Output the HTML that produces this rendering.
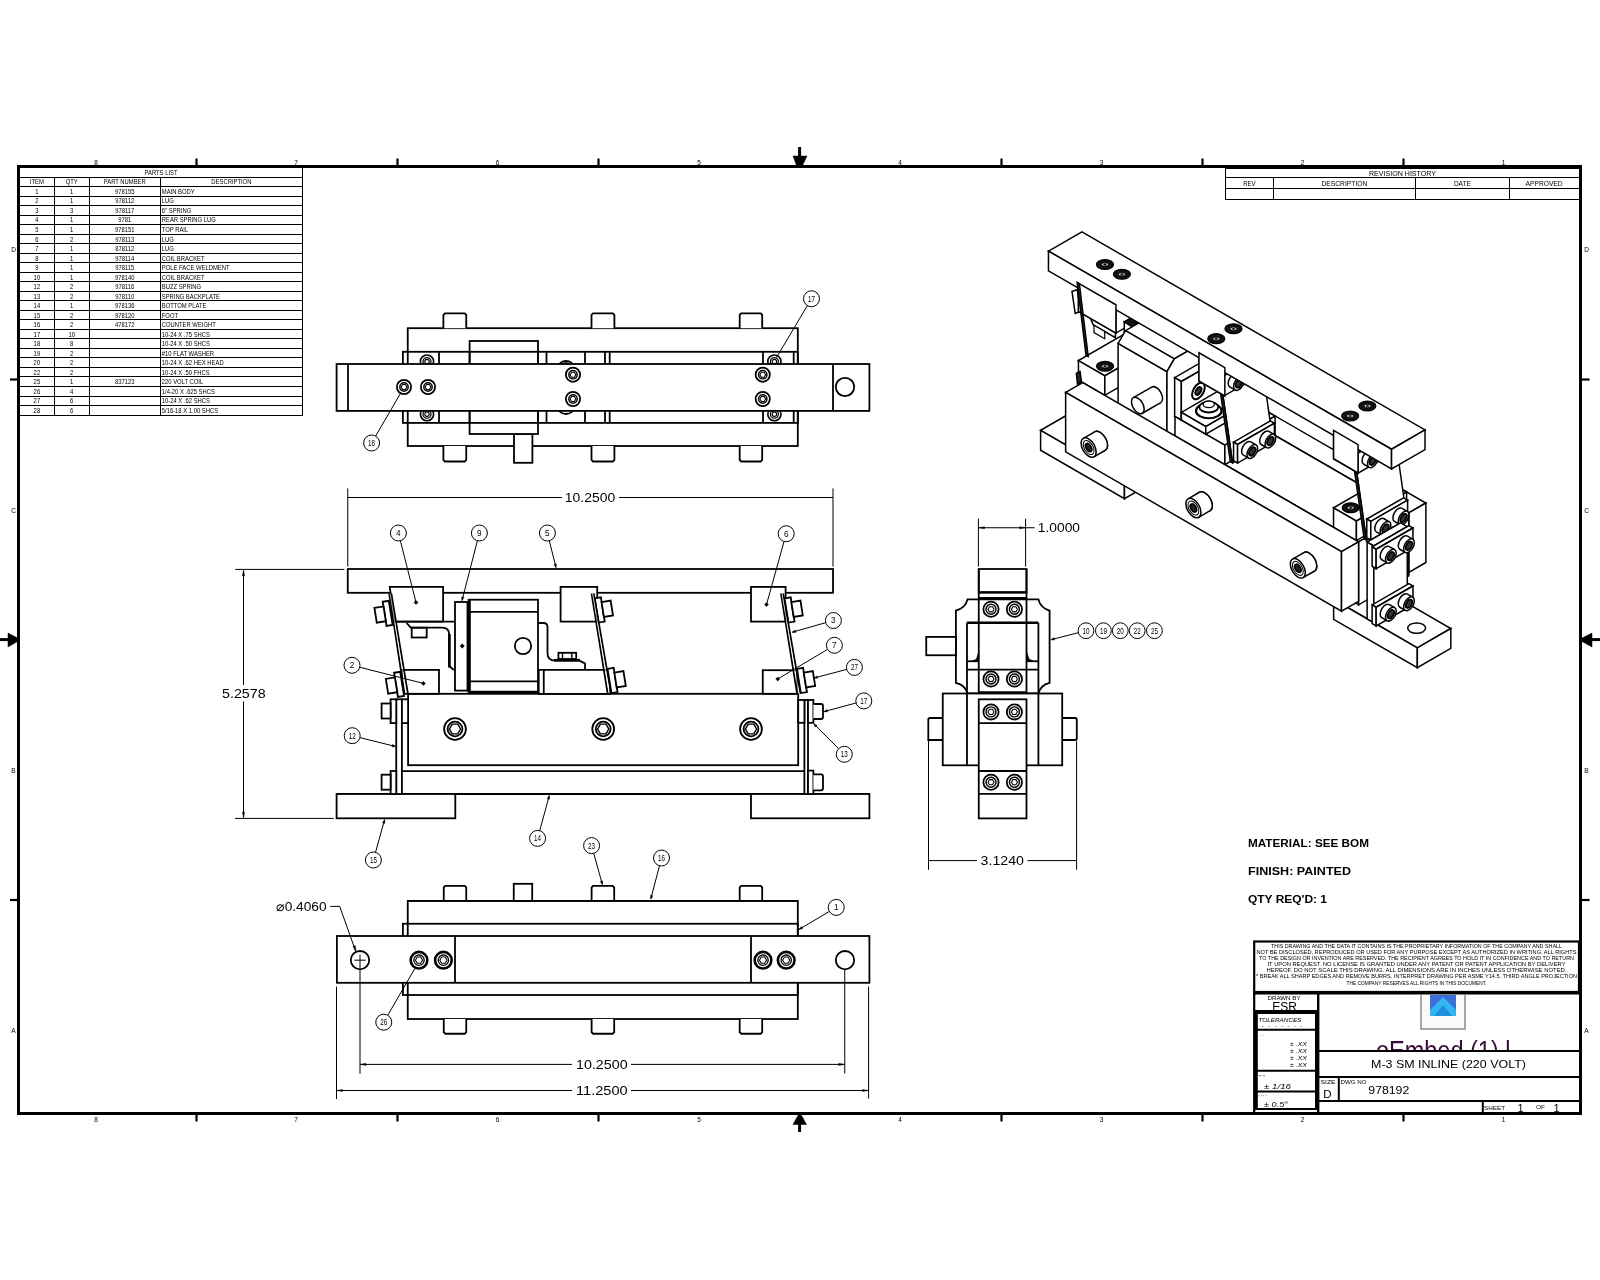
<!DOCTYPE html>
<html><head><meta charset="utf-8"><title>M-3 SM INLINE (220 VOLT)</title>
<style>
html,body{margin:0;padding:0;background:#fff;}
body{width:1600px;height:1280px;overflow:hidden;font-family:"Liberation Sans",sans-serif;}
svg{display:block;will-change:transform;font-family:"Liberation Sans",sans-serif;}
svg text{stroke:none;fill:#000;}
</style></head><body>
<svg width="1600" height="1280" viewBox="0 0 1600 1280" fill="none" stroke="#000" stroke-linecap="butt" stroke-linejoin="miter">
<rect x="18.50" y="166.50" width="1562.00" height="947.00" stroke-width="3" fill="none"/>
<line x1="196.50" y1="158.50" x2="196.50" y2="165.00" stroke-width="2.2" />
<line x1="196.50" y1="1115.00" x2="196.50" y2="1121.50" stroke-width="2.2" />
<line x1="397.50" y1="158.50" x2="397.50" y2="165.00" stroke-width="2.2" />
<line x1="397.50" y1="1115.00" x2="397.50" y2="1121.50" stroke-width="2.2" />
<line x1="598.50" y1="158.50" x2="598.50" y2="165.00" stroke-width="2.2" />
<line x1="598.50" y1="1115.00" x2="598.50" y2="1121.50" stroke-width="2.2" />
<line x1="1001.50" y1="158.50" x2="1001.50" y2="165.00" stroke-width="2.2" />
<line x1="1001.50" y1="1115.00" x2="1001.50" y2="1121.50" stroke-width="2.2" />
<line x1="1202.50" y1="158.50" x2="1202.50" y2="165.00" stroke-width="2.2" />
<line x1="1202.50" y1="1115.00" x2="1202.50" y2="1121.50" stroke-width="2.2" />
<line x1="1403.50" y1="158.50" x2="1403.50" y2="165.00" stroke-width="2.2" />
<line x1="1403.50" y1="1115.00" x2="1403.50" y2="1121.50" stroke-width="2.2" />
<line x1="10.00" y1="379.50" x2="17.00" y2="379.50" stroke-width="2.2" />
<line x1="1582.00" y1="379.50" x2="1589.50" y2="379.50" stroke-width="2.2" />
<line x1="10.00" y1="900.00" x2="17.00" y2="900.00" stroke-width="2.2" />
<line x1="1582.00" y1="900.00" x2="1589.50" y2="900.00" stroke-width="2.2" />
<line x1="799.60" y1="147.00" x2="799.60" y2="157.00" stroke-width="3" />
<polygon points="793.00,156.00 807.00,156.00 802.50,165.50 796.50,165.50" stroke-width="0.5" fill="black"/>
<line x1="799.60" y1="1124.00" x2="799.60" y2="1132.00" stroke-width="3" />
<polygon points="793.00,1124.50 806.50,1124.50 801.00,1114.50 798.50,1114.50" stroke-width="0.5" fill="black"/>
<line x1="0.00" y1="639.60" x2="9.00" y2="639.60" stroke-width="3" />
<polygon points="8.00,633.00 8.00,647.00 17.50,641.50 17.50,638.00" stroke-width="0.5" fill="black"/>
<line x1="1591.00" y1="639.60" x2="1600.00" y2="639.60" stroke-width="3" />
<polygon points="1592.00,633.00 1592.00,647.00 1582.00,641.50 1582.00,638.00" stroke-width="0.5" fill="black"/>
<text x="96.00" y="165.20" font-size="6.5" text-anchor="middle" font-weight="normal" font-style="normal" >8</text>
<text x="96.00" y="1121.50" font-size="6.5" text-anchor="middle" font-weight="normal" font-style="normal" >8</text>
<text x="296.00" y="165.20" font-size="6.5" text-anchor="middle" font-weight="normal" font-style="normal" >7</text>
<text x="296.00" y="1121.50" font-size="6.5" text-anchor="middle" font-weight="normal" font-style="normal" >7</text>
<text x="497.50" y="165.20" font-size="6.5" text-anchor="middle" font-weight="normal" font-style="normal" >6</text>
<text x="497.50" y="1121.50" font-size="6.5" text-anchor="middle" font-weight="normal" font-style="normal" >6</text>
<text x="699.00" y="165.20" font-size="6.5" text-anchor="middle" font-weight="normal" font-style="normal" >5</text>
<text x="699.00" y="1121.50" font-size="6.5" text-anchor="middle" font-weight="normal" font-style="normal" >5</text>
<text x="900.00" y="165.20" font-size="6.5" text-anchor="middle" font-weight="normal" font-style="normal" >4</text>
<text x="900.00" y="1121.50" font-size="6.5" text-anchor="middle" font-weight="normal" font-style="normal" >4</text>
<text x="1101.50" y="165.20" font-size="6.5" text-anchor="middle" font-weight="normal" font-style="normal" >3</text>
<text x="1101.50" y="1121.50" font-size="6.5" text-anchor="middle" font-weight="normal" font-style="normal" >3</text>
<text x="1302.50" y="165.20" font-size="6.5" text-anchor="middle" font-weight="normal" font-style="normal" >2</text>
<text x="1302.50" y="1121.50" font-size="6.5" text-anchor="middle" font-weight="normal" font-style="normal" >2</text>
<text x="1503.50" y="165.20" font-size="6.5" text-anchor="middle" font-weight="normal" font-style="normal" >1</text>
<text x="1503.50" y="1121.50" font-size="6.5" text-anchor="middle" font-weight="normal" font-style="normal" >1</text>
<text x="13.50" y="252.00" font-size="6.5" text-anchor="middle" font-weight="normal" font-style="normal" >D</text>
<text x="1586.50" y="252.00" font-size="6.5" text-anchor="middle" font-weight="normal" font-style="normal" >D</text>
<text x="13.50" y="513.00" font-size="6.5" text-anchor="middle" font-weight="normal" font-style="normal" >C</text>
<text x="1586.50" y="513.00" font-size="6.5" text-anchor="middle" font-weight="normal" font-style="normal" >C</text>
<text x="13.50" y="773.00" font-size="6.5" text-anchor="middle" font-weight="normal" font-style="normal" >B</text>
<text x="1586.50" y="773.00" font-size="6.5" text-anchor="middle" font-weight="normal" font-style="normal" >B</text>
<text x="13.50" y="1033.00" font-size="6.5" text-anchor="middle" font-weight="normal" font-style="normal" >A</text>
<text x="1586.50" y="1033.00" font-size="6.5" text-anchor="middle" font-weight="normal" font-style="normal" >A</text>
<g shape-rendering="crispEdges">
<rect x="19.50" y="167.60" width="283.00" height="247.44" stroke-width="1.0" fill="none"/>
<line x1="19.50" y1="177.12" x2="302.50" y2="177.12" stroke-width="1.0" />
<line x1="19.50" y1="186.63" x2="302.50" y2="186.63" stroke-width="1.0" />
<line x1="19.50" y1="196.15" x2="302.50" y2="196.15" stroke-width="1.0" />
<line x1="19.50" y1="205.67" x2="302.50" y2="205.67" stroke-width="1.0" />
<line x1="19.50" y1="215.19" x2="302.50" y2="215.19" stroke-width="1.0" />
<line x1="19.50" y1="224.70" x2="302.50" y2="224.70" stroke-width="1.0" />
<line x1="19.50" y1="234.22" x2="302.50" y2="234.22" stroke-width="1.0" />
<line x1="19.50" y1="243.74" x2="302.50" y2="243.74" stroke-width="1.0" />
<line x1="19.50" y1="253.25" x2="302.50" y2="253.25" stroke-width="1.0" />
<line x1="19.50" y1="262.77" x2="302.50" y2="262.77" stroke-width="1.0" />
<line x1="19.50" y1="272.29" x2="302.50" y2="272.29" stroke-width="1.0" />
<line x1="19.50" y1="281.80" x2="302.50" y2="281.80" stroke-width="1.0" />
<line x1="19.50" y1="291.32" x2="302.50" y2="291.32" stroke-width="1.0" />
<line x1="19.50" y1="300.84" x2="302.50" y2="300.84" stroke-width="1.0" />
<line x1="19.50" y1="310.36" x2="302.50" y2="310.36" stroke-width="1.0" />
<line x1="19.50" y1="319.87" x2="302.50" y2="319.87" stroke-width="1.0" />
<line x1="19.50" y1="329.39" x2="302.50" y2="329.39" stroke-width="1.0" />
<line x1="19.50" y1="338.91" x2="302.50" y2="338.91" stroke-width="1.0" />
<line x1="19.50" y1="348.42" x2="302.50" y2="348.42" stroke-width="1.0" />
<line x1="19.50" y1="357.94" x2="302.50" y2="357.94" stroke-width="1.0" />
<line x1="19.50" y1="367.46" x2="302.50" y2="367.46" stroke-width="1.0" />
<line x1="19.50" y1="376.97" x2="302.50" y2="376.97" stroke-width="1.0" />
<line x1="19.50" y1="386.49" x2="302.50" y2="386.49" stroke-width="1.0" />
<line x1="19.50" y1="396.01" x2="302.50" y2="396.01" stroke-width="1.0" />
<line x1="19.50" y1="405.52" x2="302.50" y2="405.52" stroke-width="1.0" />
<line x1="54.25" y1="177.12" x2="54.25" y2="415.04" stroke-width="1.0" />
<line x1="89.25" y1="177.12" x2="89.25" y2="415.04" stroke-width="1.0" />
<line x1="160.25" y1="177.12" x2="160.25" y2="415.04" stroke-width="1.0" />
</g>
<text transform="translate(161.00 174.90) scale(0.89 1)" font-size="6.6" text-anchor="middle">PARTS LIST</text>
<text transform="translate(36.88 184.42) scale(0.89 1)" font-size="6.6" text-anchor="middle">ITEM</text>
<text transform="translate(71.75 184.42) scale(0.89 1)" font-size="6.6" text-anchor="middle">QTY</text>
<text transform="translate(124.75 184.42) scale(0.89 1)" font-size="6.6" text-anchor="middle">PART NUMBER</text>
<text transform="translate(231.38 184.42) scale(0.89 1)" font-size="6.6" text-anchor="middle">DESCRIPTION</text>
<text transform="translate(36.88 193.93) scale(0.89 1)" font-size="6.6" text-anchor="middle">1</text>
<text transform="translate(71.75 193.93) scale(0.89 1)" font-size="6.6" text-anchor="middle">1</text>
<text transform="translate(124.75 193.93) scale(0.89 1)" font-size="6.6" text-anchor="middle">978155</text>
<text transform="translate(161.75 193.93) scale(0.89 1)" font-size="6.6" text-anchor="start">MAIN BODY</text>
<text transform="translate(36.88 203.45) scale(0.89 1)" font-size="6.6" text-anchor="middle">2</text>
<text transform="translate(71.75 203.45) scale(0.89 1)" font-size="6.6" text-anchor="middle">1</text>
<text transform="translate(124.75 203.45) scale(0.89 1)" font-size="6.6" text-anchor="middle">978112</text>
<text transform="translate(161.75 203.45) scale(0.89 1)" font-size="6.6" text-anchor="start">LUG</text>
<text transform="translate(36.88 212.97) scale(0.89 1)" font-size="6.6" text-anchor="middle">3</text>
<text transform="translate(71.75 212.97) scale(0.89 1)" font-size="6.6" text-anchor="middle">3</text>
<text transform="translate(124.75 212.97) scale(0.89 1)" font-size="6.6" text-anchor="middle">978117</text>
<text transform="translate(161.75 212.97) scale(0.89 1)" font-size="6.6" text-anchor="start">  6" SPRING</text>
<text transform="translate(36.88 222.49) scale(0.89 1)" font-size="6.6" text-anchor="middle">4</text>
<text transform="translate(71.75 222.49) scale(0.89 1)" font-size="6.6" text-anchor="middle">1</text>
<text transform="translate(124.75 222.49) scale(0.89 1)" font-size="6.6" text-anchor="middle">9781</text>
<text transform="translate(161.75 222.49) scale(0.89 1)" font-size="6.6" text-anchor="start">REAR SPRING LUG</text>
<text transform="translate(36.88 232.00) scale(0.89 1)" font-size="6.6" text-anchor="middle">5</text>
<text transform="translate(71.75 232.00) scale(0.89 1)" font-size="6.6" text-anchor="middle">1</text>
<text transform="translate(124.75 232.00) scale(0.89 1)" font-size="6.6" text-anchor="middle">978151</text>
<text transform="translate(161.75 232.00) scale(0.89 1)" font-size="6.6" text-anchor="start">TOP RAIL</text>
<text transform="translate(36.88 241.52) scale(0.89 1)" font-size="6.6" text-anchor="middle">6</text>
<text transform="translate(71.75 241.52) scale(0.89 1)" font-size="6.6" text-anchor="middle">2</text>
<text transform="translate(124.75 241.52) scale(0.89 1)" font-size="6.6" text-anchor="middle">978113</text>
<text transform="translate(161.75 241.52) scale(0.89 1)" font-size="6.6" text-anchor="start">LUG</text>
<text transform="translate(36.88 251.04) scale(0.89 1)" font-size="6.6" text-anchor="middle">7</text>
<text transform="translate(71.75 251.04) scale(0.89 1)" font-size="6.6" text-anchor="middle">1</text>
<text transform="translate(124.75 251.04) scale(0.89 1)" font-size="6.6" text-anchor="middle">878112</text>
<text transform="translate(161.75 251.04) scale(0.89 1)" font-size="6.6" text-anchor="start">LUG</text>
<text transform="translate(36.88 260.55) scale(0.89 1)" font-size="6.6" text-anchor="middle">8</text>
<text transform="translate(71.75 260.55) scale(0.89 1)" font-size="6.6" text-anchor="middle">1</text>
<text transform="translate(124.75 260.55) scale(0.89 1)" font-size="6.6" text-anchor="middle">978114</text>
<text transform="translate(161.75 260.55) scale(0.89 1)" font-size="6.6" text-anchor="start">COIL BRACKET</text>
<text transform="translate(36.88 270.07) scale(0.89 1)" font-size="6.6" text-anchor="middle">9</text>
<text transform="translate(71.75 270.07) scale(0.89 1)" font-size="6.6" text-anchor="middle">1</text>
<text transform="translate(124.75 270.07) scale(0.89 1)" font-size="6.6" text-anchor="middle">978115</text>
<text transform="translate(161.75 270.07) scale(0.89 1)" font-size="6.6" text-anchor="start">POLE FACE WELDMENT</text>
<text transform="translate(36.88 279.59) scale(0.89 1)" font-size="6.6" text-anchor="middle">10</text>
<text transform="translate(71.75 279.59) scale(0.89 1)" font-size="6.6" text-anchor="middle">1</text>
<text transform="translate(124.75 279.59) scale(0.89 1)" font-size="6.6" text-anchor="middle">978140</text>
<text transform="translate(161.75 279.59) scale(0.89 1)" font-size="6.6" text-anchor="start">COIL BRACKET</text>
<text transform="translate(36.88 289.10) scale(0.89 1)" font-size="6.6" text-anchor="middle">12</text>
<text transform="translate(71.75 289.10) scale(0.89 1)" font-size="6.6" text-anchor="middle">2</text>
<text transform="translate(124.75 289.10) scale(0.89 1)" font-size="6.6" text-anchor="middle">978116</text>
<text transform="translate(161.75 289.10) scale(0.89 1)" font-size="6.6" text-anchor="start">BUZZ SPRING</text>
<text transform="translate(36.88 298.62) scale(0.89 1)" font-size="6.6" text-anchor="middle">13</text>
<text transform="translate(71.75 298.62) scale(0.89 1)" font-size="6.6" text-anchor="middle">2</text>
<text transform="translate(124.75 298.62) scale(0.89 1)" font-size="6.6" text-anchor="middle">978110</text>
<text transform="translate(161.75 298.62) scale(0.89 1)" font-size="6.6" text-anchor="start">SPRING BACKPLATE</text>
<text transform="translate(36.88 308.14) scale(0.89 1)" font-size="6.6" text-anchor="middle">14</text>
<text transform="translate(71.75 308.14) scale(0.89 1)" font-size="6.6" text-anchor="middle">1</text>
<text transform="translate(124.75 308.14) scale(0.89 1)" font-size="6.6" text-anchor="middle">978136</text>
<text transform="translate(161.75 308.14) scale(0.89 1)" font-size="6.6" text-anchor="start">BOTTOM PLATE</text>
<text transform="translate(36.88 317.66) scale(0.89 1)" font-size="6.6" text-anchor="middle">15</text>
<text transform="translate(71.75 317.66) scale(0.89 1)" font-size="6.6" text-anchor="middle">2</text>
<text transform="translate(124.75 317.66) scale(0.89 1)" font-size="6.6" text-anchor="middle">978120</text>
<text transform="translate(161.75 317.66) scale(0.89 1)" font-size="6.6" text-anchor="start">FOOT</text>
<text transform="translate(36.88 327.17) scale(0.89 1)" font-size="6.6" text-anchor="middle">16</text>
<text transform="translate(71.75 327.17) scale(0.89 1)" font-size="6.6" text-anchor="middle">2</text>
<text transform="translate(124.75 327.17) scale(0.89 1)" font-size="6.6" text-anchor="middle">478172</text>
<text transform="translate(161.75 327.17) scale(0.89 1)" font-size="6.6" text-anchor="start">COUNTER WEIGHT</text>
<text transform="translate(36.88 336.69) scale(0.89 1)" font-size="6.6" text-anchor="middle">17</text>
<text transform="translate(71.75 336.69) scale(0.89 1)" font-size="6.6" text-anchor="middle">10</text>
<text transform="translate(124.75 336.69) scale(0.89 1)" font-size="6.6" text-anchor="middle"></text>
<text transform="translate(161.75 336.69) scale(0.89 1)" font-size="6.6" text-anchor="start">10-24 X .75 SHCS</text>
<text transform="translate(36.88 346.21) scale(0.89 1)" font-size="6.6" text-anchor="middle">18</text>
<text transform="translate(71.75 346.21) scale(0.89 1)" font-size="6.6" text-anchor="middle">8</text>
<text transform="translate(124.75 346.21) scale(0.89 1)" font-size="6.6" text-anchor="middle"></text>
<text transform="translate(161.75 346.21) scale(0.89 1)" font-size="6.6" text-anchor="start">10-24 X .50 SHCS</text>
<text transform="translate(36.88 355.72) scale(0.89 1)" font-size="6.6" text-anchor="middle">19</text>
<text transform="translate(71.75 355.72) scale(0.89 1)" font-size="6.6" text-anchor="middle">2</text>
<text transform="translate(124.75 355.72) scale(0.89 1)" font-size="6.6" text-anchor="middle"></text>
<text transform="translate(161.75 355.72) scale(0.89 1)" font-size="6.6" text-anchor="start">#10 FLAT WASHER</text>
<text transform="translate(36.88 365.24) scale(0.89 1)" font-size="6.6" text-anchor="middle">20</text>
<text transform="translate(71.75 365.24) scale(0.89 1)" font-size="6.6" text-anchor="middle">2</text>
<text transform="translate(124.75 365.24) scale(0.89 1)" font-size="6.6" text-anchor="middle"></text>
<text transform="translate(161.75 365.24) scale(0.89 1)" font-size="6.6" text-anchor="start">10-24 X .62 HEX HEAD</text>
<text transform="translate(36.88 374.76) scale(0.89 1)" font-size="6.6" text-anchor="middle">22</text>
<text transform="translate(71.75 374.76) scale(0.89 1)" font-size="6.6" text-anchor="middle">2</text>
<text transform="translate(124.75 374.76) scale(0.89 1)" font-size="6.6" text-anchor="middle"></text>
<text transform="translate(161.75 374.76) scale(0.89 1)" font-size="6.6" text-anchor="start">10-24 X .50 FHCS</text>
<text transform="translate(36.88 384.27) scale(0.89 1)" font-size="6.6" text-anchor="middle">25</text>
<text transform="translate(71.75 384.27) scale(0.89 1)" font-size="6.6" text-anchor="middle">1</text>
<text transform="translate(124.75 384.27) scale(0.89 1)" font-size="6.6" text-anchor="middle">837123</text>
<text transform="translate(161.75 384.27) scale(0.89 1)" font-size="6.6" text-anchor="start">220 VOLT COIL</text>
<text transform="translate(36.88 393.79) scale(0.89 1)" font-size="6.6" text-anchor="middle">26</text>
<text transform="translate(71.75 393.79) scale(0.89 1)" font-size="6.6" text-anchor="middle">4</text>
<text transform="translate(124.75 393.79) scale(0.89 1)" font-size="6.6" text-anchor="middle"></text>
<text transform="translate(161.75 393.79) scale(0.89 1)" font-size="6.6" text-anchor="start">1/4-20 X .625 SHCS</text>
<text transform="translate(36.88 403.31) scale(0.89 1)" font-size="6.6" text-anchor="middle">27</text>
<text transform="translate(71.75 403.31) scale(0.89 1)" font-size="6.6" text-anchor="middle">6</text>
<text transform="translate(124.75 403.31) scale(0.89 1)" font-size="6.6" text-anchor="middle"></text>
<text transform="translate(161.75 403.31) scale(0.89 1)" font-size="6.6" text-anchor="start">10-24 X .62 SHCS</text>
<text transform="translate(36.88 412.82) scale(0.89 1)" font-size="6.6" text-anchor="middle">28</text>
<text transform="translate(71.75 412.82) scale(0.89 1)" font-size="6.6" text-anchor="middle">6</text>
<text transform="translate(124.75 412.82) scale(0.89 1)" font-size="6.6" text-anchor="middle"></text>
<text transform="translate(161.75 412.82) scale(0.89 1)" font-size="6.6" text-anchor="start">5/16-18 X 1.00 SHCS</text>
<g shape-rendering="crispEdges">
<rect x="1225.50" y="168.00" width="353.50" height="31.50" stroke-width="1.0" fill="none"/>
<line x1="1225.50" y1="177.50" x2="1579.00" y2="177.50" stroke-width="1.0" />
<line x1="1225.50" y1="188.75" x2="1579.00" y2="188.75" stroke-width="1.0" />
<line x1="1273.25" y1="177.50" x2="1273.25" y2="199.50" stroke-width="1.0" />
<line x1="1415.50" y1="177.50" x2="1415.50" y2="199.50" stroke-width="1.0" />
<line x1="1509.25" y1="177.50" x2="1509.25" y2="199.50" stroke-width="1.0" />
</g>
<text x="1402.50" y="175.60" font-size="6.6" text-anchor="middle" textLength="67" lengthAdjust="spacingAndGlyphs">REVISION  HISTORY</text>
<text x="1249.38" y="186.40" font-size="6.6" text-anchor="middle" textLength="12.5" lengthAdjust="spacingAndGlyphs">REV</text>
<text x="1344.38" y="186.40" font-size="6.6" text-anchor="middle" textLength="46" lengthAdjust="spacingAndGlyphs">DESCRIPTION</text>
<text x="1462.38" y="186.40" font-size="6.6" text-anchor="middle" textLength="17" lengthAdjust="spacingAndGlyphs">DATE</text>
<text x="1544.12" y="186.40" font-size="6.6" text-anchor="middle" textLength="37" lengthAdjust="spacingAndGlyphs">APPROVED</text>
<rect x="407.75" y="328.20" width="390.05" height="117.80" stroke-width="1.8" fill="none"/>
<polyline points="443.40,328.20 443.40,314.90 444.90,313.40 464.75,313.40 466.25,314.90 466.25,328.20" stroke-width="1.8" fill="white"/>
<polyline points="443.40,446.00 443.40,460.00 444.90,461.50 464.75,461.50 466.25,460.00 466.25,446.00" stroke-width="1.8" fill="white"/>
<polyline points="591.50,328.20 591.50,314.90 593.00,313.40 612.90,313.40 614.40,314.90 614.40,328.20" stroke-width="1.8" fill="white"/>
<polyline points="591.50,446.00 591.50,460.00 593.00,461.50 612.90,461.50 614.40,460.00 614.40,446.00" stroke-width="1.8" fill="white"/>
<polyline points="739.70,328.20 739.70,314.90 741.20,313.40 760.70,313.40 762.20,314.90 762.20,328.20" stroke-width="1.8" fill="white"/>
<polyline points="739.70,446.00 739.70,460.00 741.20,461.50 760.70,461.50 762.20,460.00 762.20,446.00" stroke-width="1.8" fill="white"/>
<rect x="514.00" y="434.00" width="18.40" height="28.80" stroke-width="1.8" fill="white"/>
<rect x="469.60" y="341.00" width="68.40" height="93.00" stroke-width="1.8" fill="white"/>
<rect x="402.90" y="351.80" width="394.90" height="71.10" stroke-width="1.8" fill="none"/>
<line x1="439.00" y1="351.80" x2="439.00" y2="422.90" stroke-width="1.8" />
<line x1="469.60" y1="351.80" x2="469.60" y2="422.90" stroke-width="1.8" />
<line x1="538.00" y1="351.80" x2="538.00" y2="422.90" stroke-width="1.8" />
<line x1="546.50" y1="351.80" x2="546.50" y2="422.90" stroke-width="1.8" />
<line x1="585.00" y1="351.80" x2="585.00" y2="422.90" stroke-width="1.8" />
<line x1="605.00" y1="351.80" x2="605.00" y2="422.90" stroke-width="1.8" />
<line x1="609.70" y1="351.80" x2="609.70" y2="422.90" stroke-width="1.8" />
<line x1="763.00" y1="351.80" x2="763.00" y2="422.90" stroke-width="1.8" />
<line x1="793.70" y1="351.80" x2="793.70" y2="422.90" stroke-width="1.8" />
<circle cx="427.00" cy="361.60" r="6.60" stroke-width="1.62" fill="none"/>
<circle cx="427.00" cy="361.60" r="4.00" stroke-width="1.26" fill="none"/>
<circle cx="427.00" cy="361.60" r="2.20" stroke-width="1.08" fill="none"/>
<circle cx="427.00" cy="414.20" r="6.60" stroke-width="1.62" fill="none"/>
<circle cx="427.00" cy="414.20" r="4.00" stroke-width="1.26" fill="none"/>
<circle cx="427.00" cy="414.20" r="2.20" stroke-width="1.08" fill="none"/>
<circle cx="774.40" cy="361.60" r="6.60" stroke-width="1.62" fill="none"/>
<circle cx="774.40" cy="361.60" r="4.00" stroke-width="1.26" fill="none"/>
<circle cx="774.40" cy="361.60" r="2.20" stroke-width="1.08" fill="none"/>
<circle cx="774.40" cy="414.20" r="6.60" stroke-width="1.62" fill="none"/>
<circle cx="774.40" cy="414.20" r="4.00" stroke-width="1.26" fill="none"/>
<circle cx="774.40" cy="414.20" r="2.20" stroke-width="1.08" fill="none"/>
<ellipse cx="566.00" cy="366.50" rx="7.50" ry="5.50" stroke-width="1.8" fill="none"/>
<ellipse cx="566.00" cy="366.50" rx="5.00" ry="3.50" stroke-width="1.4400000000000002" fill="none"/>
<ellipse cx="566.00" cy="408.50" rx="7.50" ry="5.50" stroke-width="1.8" fill="none"/>
<rect x="336.60" y="364.00" width="532.80" height="46.90" stroke-width="1.8" fill="white"/>
<line x1="348.00" y1="364.00" x2="348.00" y2="410.90" stroke-width="1.8" />
<line x1="833.00" y1="364.00" x2="833.00" y2="410.90" stroke-width="1.8" />
<circle cx="845.00" cy="387.00" r="9.20" stroke-width="1.8" fill="none"/>
<circle cx="404.00" cy="387.00" r="7.10" stroke-width="1.8" fill="white"/>
<circle cx="404.00" cy="387.00" r="4.20" stroke-width="1.4400000000000002" fill="none"/>
<polygon points="406.90,387.00 405.45,389.51 402.55,389.51 401.10,387.00 402.55,384.49 405.45,384.49" stroke-width="1.08" fill="none"/>
<circle cx="428.00" cy="387.00" r="7.10" stroke-width="1.8" fill="white"/>
<circle cx="428.00" cy="387.00" r="4.20" stroke-width="1.4400000000000002" fill="none"/>
<polygon points="430.90,387.00 429.45,389.51 426.55,389.51 425.10,387.00 426.55,384.49 429.45,384.49" stroke-width="1.08" fill="none"/>
<circle cx="573.00" cy="374.70" r="7.10" stroke-width="1.8" fill="white"/>
<circle cx="573.00" cy="374.70" r="4.20" stroke-width="1.4400000000000002" fill="none"/>
<polygon points="575.90,374.70 574.45,377.21 571.55,377.21 570.10,374.70 571.55,372.19 574.45,372.19" stroke-width="1.08" fill="none"/>
<circle cx="573.00" cy="399.00" r="7.10" stroke-width="1.8" fill="white"/>
<circle cx="573.00" cy="399.00" r="4.20" stroke-width="1.4400000000000002" fill="none"/>
<polygon points="575.90,399.00 574.45,401.51 571.55,401.51 570.10,399.00 571.55,396.49 574.45,396.49" stroke-width="1.08" fill="none"/>
<circle cx="762.75" cy="374.70" r="7.10" stroke-width="1.8" fill="white"/>
<circle cx="762.75" cy="374.70" r="4.20" stroke-width="1.4400000000000002" fill="none"/>
<polygon points="765.65,374.70 764.20,377.21 761.30,377.21 759.85,374.70 761.30,372.19 764.20,372.19" stroke-width="1.08" fill="none"/>
<circle cx="762.75" cy="399.00" r="7.10" stroke-width="1.8" fill="white"/>
<circle cx="762.75" cy="399.00" r="4.20" stroke-width="1.4400000000000002" fill="none"/>
<polygon points="765.65,399.00 764.20,401.51 761.30,401.51 759.85,399.00 761.30,396.49 764.20,396.49" stroke-width="1.08" fill="none"/>
<line x1="375.63" y1="436.09" x2="401.00" y2="392.50" stroke-width="1.0" />
<circle cx="371.60" cy="443.00" r="8.00" stroke-width="1.0" fill="white"/>
<text x="371.60" y="445.90" font-size="8.2" text-anchor="middle" font-weight="normal" font-style="normal" textLength="7.00" lengthAdjust="spacingAndGlyphs" >18</text>
<line x1="807.41" y1="305.62" x2="776.50" y2="357.50" stroke-width="1.0" />
<circle cx="811.50" cy="298.75" r="8.00" stroke-width="1.0" fill="white"/>
<text x="811.50" y="301.65" font-size="8.2" text-anchor="middle" font-weight="normal" font-style="normal" textLength="7.00" lengthAdjust="spacingAndGlyphs" >17</text>
<line x1="347.75" y1="488.40" x2="347.75" y2="566.50" stroke-width="1.0" />
<line x1="833.00" y1="488.40" x2="833.00" y2="566.50" stroke-width="1.0" />
<line x1="347.75" y1="497.50" x2="562.00" y2="497.50" stroke-width="1.0" />
<line x1="619.00" y1="497.50" x2="833.00" y2="497.50" stroke-width="1.0" />
<text x="590.00" y="501.90" font-size="12.6" text-anchor="middle" font-weight="normal" font-style="normal" textLength="50.50" lengthAdjust="spacingAndGlyphs" >10.2500</text>
<line x1="235.25" y1="569.40" x2="344.40" y2="569.40" stroke-width="1.0" />
<line x1="235.00" y1="818.40" x2="333.80" y2="818.40" stroke-width="1.0" />
<line x1="243.50" y1="571.00" x2="243.50" y2="685.00" stroke-width="1.0" />
<line x1="243.50" y1="701.50" x2="243.50" y2="817.00" stroke-width="1.0" />
<polygon points="243.50,569.80 242.40,576.00 244.60,576.00" stroke-width="0.4" fill="black"/>
<polygon points="243.50,818.00 242.40,812.00 244.60,812.00" stroke-width="0.4" fill="black"/>
<text x="243.80" y="698.40" font-size="12.6" text-anchor="middle" font-weight="normal" font-style="normal" textLength="43.60" lengthAdjust="spacingAndGlyphs" >5.2578</text>
<rect x="347.75" y="569.00" width="485.25" height="23.80" stroke-width="1.8" fill="white"/>
<polygon points="389.70,586.90 443.10,586.90 443.10,621.60 395.00,621.60" stroke-width="1.8" fill="white"/>
<rect x="560.60" y="586.90" width="36.60" height="34.70" stroke-width="1.8" fill="white"/>
<rect x="751.00" y="586.90" width="34.60" height="34.70" stroke-width="1.8" fill="white"/>
<line x1="395.00" y1="621.60" x2="454.70" y2="621.60" stroke-width="1.8" />
<rect x="408.10" y="693.80" width="390.10" height="71.40" stroke-width="1.8" fill="white"/>
<line x1="401.90" y1="771.20" x2="804.40" y2="771.20" stroke-width="1.8" />
<line x1="336.60" y1="794.00" x2="869.40" y2="794.00" stroke-width="1.8" />
<rect x="336.60" y="794.00" width="118.70" height="24.30" stroke-width="1.8" fill="white"/>
<rect x="751.00" y="794.00" width="118.40" height="24.30" stroke-width="1.8" fill="white"/>
<circle cx="455.00" cy="729.00" r="10.90" stroke-width="1.8" fill="none"/>
<circle cx="455.00" cy="729.00" r="7.40" stroke-width="1.8" fill="none"/>
<polygon points="460.60,729.00 457.80,733.85 452.20,733.85 449.40,729.00 452.20,724.15 457.80,724.15" stroke-width="1.4400000000000002" fill="none"/>
<circle cx="603.20" cy="729.00" r="10.90" stroke-width="1.8" fill="none"/>
<circle cx="603.20" cy="729.00" r="7.40" stroke-width="1.8" fill="none"/>
<polygon points="608.80,729.00 606.00,733.85 600.40,733.85 597.60,729.00 600.40,724.15 606.00,724.15" stroke-width="1.4400000000000002" fill="none"/>
<circle cx="751.00" cy="729.00" r="10.90" stroke-width="1.8" fill="none"/>
<circle cx="751.00" cy="729.00" r="7.40" stroke-width="1.8" fill="none"/>
<polygon points="756.60,729.00 753.80,733.85 748.20,733.85 745.40,729.00 748.20,724.15 753.80,724.15" stroke-width="1.4400000000000002" fill="none"/>
<rect x="402.00" y="669.90" width="37.00" height="23.90" stroke-width="1.8" fill="white"/>
<polygon points="538.70,669.90 610.00,669.90 610.00,693.80 538.70,693.80" stroke-width="1.8" fill="white"/>
<line x1="543.75" y1="669.90" x2="543.75" y2="693.80" stroke-width="1.8" />
<rect x="762.75" y="670.20" width="34.25" height="23.60" stroke-width="1.8" fill="white"/>
<rect x="455.00" y="602.00" width="12.50" height="88.60" stroke-width="1.8" fill="white"/>
<polygon points="460.00,646.00 462.20,643.80 464.40,646.00 462.20,648.20" stroke-width="0.5" fill="black"/>
<rect x="469.40" y="599.70" width="68.60" height="92.90" stroke-width="1.8" fill="white"/>
<line x1="469.20" y1="599.00" x2="469.20" y2="693.00" stroke-width="3.0" />
<line x1="469.40" y1="611.90" x2="538.00" y2="611.90" stroke-width="1.8" />
<line x1="469.40" y1="681.30" x2="538.00" y2="681.30" stroke-width="1.8" />
<line x1="469.40" y1="692.00" x2="538.00" y2="692.00" stroke-width="2.6" />
<circle cx="523.00" cy="646.00" r="8.20" stroke-width="1.8" fill="none"/>
<path d="M406.6,623 L410.8,627.7 L442.2,627.7 Q449.2,627.7 449.2,634.7 L449.2,666 L453.8,670" stroke-width="1.8" fill="none"/>
<line x1="449.40" y1="634.00" x2="449.40" y2="667.50" stroke-width="2.6" />
<rect x="411.70" y="627.70" width="15.00" height="9.80" stroke-width="1.8" fill="none"/>
<path d="M538,623 L543.5,623 Q547.5,623 547.5,627 L547.5,653 Q547.5,660.6 555,660.6 L579.4,660.6 L585,663.4 L585,669.8" stroke-width="1.8" fill="none"/>
<line x1="554.00" y1="660.20" x2="580.00" y2="660.20" stroke-width="2.6" />
<rect x="558.40" y="652.80" width="17.80" height="6.20" stroke-width="1.8" fill="white"/>
<line x1="562.50" y1="652.80" x2="562.50" y2="659.00" stroke-width="1.4400000000000002" />
<line x1="571.90" y1="652.80" x2="571.90" y2="659.00" stroke-width="1.4400000000000002" />
<polygon points="382.67,601.75 388.79,600.78 392.62,624.98 386.50,625.95" stroke-width="1.8" fill="white"/>
<polygon points="374.42,607.86 383.51,606.42 385.85,621.24 376.77,622.68" stroke-width="1.8" fill="white"/>
<polygon points="394.07,672.75 400.19,671.78 404.02,695.98 397.90,696.95" stroke-width="1.8" fill="white"/>
<polygon points="385.82,678.86 394.91,677.42 397.25,692.24 388.17,693.68" stroke-width="1.8" fill="white"/>
<polygon points="594.78,598.32 600.90,597.35 604.73,621.55 598.61,622.52" stroke-width="1.8" fill="white"/>
<polygon points="601.55,602.06 610.63,600.62 612.98,615.44 603.89,616.88" stroke-width="1.8" fill="white"/>
<polygon points="607.58,668.82 613.70,667.85 617.53,692.05 611.41,693.02" stroke-width="1.8" fill="white"/>
<polygon points="614.35,672.56 623.43,671.12 625.78,685.94 616.69,687.38" stroke-width="1.8" fill="white"/>
<polygon points="784.58,598.32 790.70,597.35 794.53,621.55 788.41,622.52" stroke-width="1.8" fill="white"/>
<polygon points="791.35,602.06 800.43,600.62 802.78,615.44 793.69,616.88" stroke-width="1.8" fill="white"/>
<polygon points="796.98,668.82 803.10,667.85 806.93,692.05 800.81,693.02" stroke-width="1.8" fill="white"/>
<polygon points="803.75,672.56 812.83,671.12 815.18,685.94 806.09,687.38" stroke-width="1.8" fill="white"/>
<line x1="389.20" y1="593.50" x2="404.40" y2="693.20" stroke-width="1.8" />
<line x1="391.30" y1="593.50" x2="407.80" y2="693.20" stroke-width="1.8" />
<line x1="390.20" y1="593.50" x2="406.10" y2="693.20" stroke-width="0.6" stroke="white"/>
<line x1="591.60" y1="593.50" x2="607.60" y2="693.20" stroke-width="1.8" />
<line x1="593.70" y1="593.50" x2="611.00" y2="693.20" stroke-width="1.8" />
<line x1="592.60" y1="593.50" x2="609.30" y2="693.20" stroke-width="0.6" stroke="white"/>
<line x1="781.00" y1="593.50" x2="797.00" y2="693.20" stroke-width="1.8" />
<line x1="783.10" y1="593.50" x2="800.40" y2="693.20" stroke-width="1.8" />
<line x1="782.00" y1="593.50" x2="798.70" y2="693.20" stroke-width="0.6" stroke="white"/>
<rect x="396.25" y="699.30" width="5.65" height="94.70" stroke-width="1.8" fill="white"/>
<rect x="390.60" y="699.30" width="5.65" height="23.80" stroke-width="1.8" fill="white"/>
<rect x="401.90" y="699.30" width="6.20" height="23.80" stroke-width="1.8" fill="white"/>
<rect x="381.60" y="703.50" width="9.00" height="15.00" stroke-width="1.8" fill="white"/>
<rect x="390.60" y="771.00" width="5.65" height="23.00" stroke-width="1.8" fill="white"/>
<rect x="381.60" y="774.70" width="9.00" height="15.00" stroke-width="1.8" fill="white"/>
<rect x="804.40" y="700.00" width="3.60" height="94.00" stroke-width="1.8" fill="white"/>
<rect x="798.20" y="700.00" width="6.20" height="22.80" stroke-width="1.8" fill="white"/>
<rect x="808.00" y="700.00" width="5.40" height="22.80" stroke-width="1.8" fill="white"/>
<path d="M813.4,704 L821,704 Q823,704 823,706 L823,717 Q823,719 821,719 L813.4,719" stroke-width="1.8" fill="white"/>
<rect x="808.00" y="770.60" width="5.40" height="23.40" stroke-width="1.8" fill="white"/>
<path d="M813.4,774.4 L821,774.4 Q823,774.4 823,776.4 L823,788.3 Q823,790.3 821,790.3 L813.4,790.3" stroke-width="1.8" fill="white"/>
<line x1="400.37" y1="540.75" x2="416.00" y2="602.40" stroke-width="1.0" />
<polygon points="414.00,602.40 416.00,600.40 418.00,602.40 416.00,604.40" stroke-width="0.5" fill="black"/>
<circle cx="398.40" cy="533.00" r="8.00" stroke-width="1.0" fill="white"/>
<text x="398.40" y="535.90" font-size="8.2" text-anchor="middle" font-weight="normal" font-style="normal" >4</text>
<line x1="477.40" y1="540.75" x2="462.00" y2="600.50" stroke-width="1.0" />
<polygon points="462.00,600.50 461.71,596.81 464.04,597.41" stroke-width="0.5" fill="black"/>
<circle cx="479.40" cy="533.00" r="8.00" stroke-width="1.0" fill="white"/>
<text x="479.40" y="535.90" font-size="8.2" text-anchor="middle" font-weight="normal" font-style="normal" >9</text>
<line x1="549.33" y1="540.76" x2="556.00" y2="567.50" stroke-width="1.0" />
<polygon points="556.00,567.50 553.99,564.39 556.32,563.81" stroke-width="0.5" fill="black"/>
<circle cx="547.40" cy="533.00" r="8.00" stroke-width="1.0" fill="white"/>
<text x="547.40" y="535.90" font-size="8.2" text-anchor="middle" font-weight="normal" font-style="normal" >5</text>
<line x1="784.06" y1="541.46" x2="766.50" y2="604.60" stroke-width="1.0" />
<polygon points="764.50,604.60 766.50,602.60 768.50,604.60 766.50,606.60" stroke-width="0.5" fill="black"/>
<circle cx="786.20" cy="533.75" r="8.00" stroke-width="1.0" fill="white"/>
<text x="786.20" y="536.65" font-size="8.2" text-anchor="middle" font-weight="normal" font-style="normal" >6</text>
<line x1="825.70" y1="622.69" x2="792.20" y2="632.20" stroke-width="1.0" />
<polygon points="792.20,632.20 795.24,630.09 795.89,632.40" stroke-width="0.5" fill="black"/>
<circle cx="833.40" cy="620.50" r="8.00" stroke-width="1.0" fill="white"/>
<text x="833.40" y="623.40" font-size="8.2" text-anchor="middle" font-weight="normal" font-style="normal" >3</text>
<line x1="827.52" y1="649.39" x2="777.75" y2="679.00" stroke-width="1.0" />
<polygon points="775.75,679.00 777.75,677.00 779.75,679.00 777.75,681.00" stroke-width="0.5" fill="black"/>
<circle cx="834.40" cy="645.30" r="8.00" stroke-width="1.0" fill="white"/>
<text x="834.40" y="648.20" font-size="8.2" text-anchor="middle" font-weight="normal" font-style="normal" >7</text>
<line x1="846.66" y1="669.43" x2="814.00" y2="678.00" stroke-width="1.0" />
<polygon points="814.00,678.00 817.08,675.95 817.69,678.27" stroke-width="0.5" fill="black"/>
<circle cx="854.40" cy="667.40" r="8.00" stroke-width="1.0" fill="white"/>
<text x="854.40" y="670.30" font-size="8.2" text-anchor="middle" font-weight="normal" font-style="normal" textLength="7.00" lengthAdjust="spacingAndGlyphs" >27</text>
<line x1="856.07" y1="702.98" x2="824.00" y2="711.60" stroke-width="1.0" />
<polygon points="824.00,711.60 827.07,709.53 827.69,711.85" stroke-width="0.5" fill="black"/>
<circle cx="863.80" cy="700.90" r="8.00" stroke-width="1.0" fill="white"/>
<text x="863.80" y="703.80" font-size="8.2" text-anchor="middle" font-weight="normal" font-style="normal" textLength="7.00" lengthAdjust="spacingAndGlyphs" >17</text>
<line x1="838.64" y1="748.64" x2="813.75" y2="723.75" stroke-width="1.0" />
<polygon points="813.75,723.75 817.07,725.38 815.38,727.07" stroke-width="0.5" fill="black"/>
<circle cx="844.30" cy="754.30" r="8.00" stroke-width="1.0" fill="white"/>
<text x="844.30" y="757.20" font-size="8.2" text-anchor="middle" font-weight="normal" font-style="normal" textLength="7.00" lengthAdjust="spacingAndGlyphs" >13</text>
<line x1="359.75" y1="667.27" x2="423.40" y2="683.40" stroke-width="1.0" />
<polygon points="421.40,683.40 423.40,681.40 425.40,683.40 423.40,685.40" stroke-width="0.5" fill="black"/>
<circle cx="352.00" cy="665.30" r="8.00" stroke-width="1.0" fill="white"/>
<text x="352.00" y="668.20" font-size="8.2" text-anchor="middle" font-weight="normal" font-style="normal" >2</text>
<line x1="359.96" y1="737.63" x2="395.60" y2="746.50" stroke-width="1.0" />
<polygon points="395.60,746.50 391.91,746.82 392.49,744.49" stroke-width="0.5" fill="black"/>
<circle cx="352.20" cy="735.70" r="8.00" stroke-width="1.0" fill="white"/>
<text x="352.20" y="738.60" font-size="8.2" text-anchor="middle" font-weight="normal" font-style="normal" textLength="7.00" lengthAdjust="spacingAndGlyphs" >12</text>
<line x1="375.54" y1="852.29" x2="384.60" y2="819.70" stroke-width="1.0" />
<polygon points="384.60,819.70 384.82,823.39 382.51,822.75" stroke-width="0.5" fill="black"/>
<circle cx="373.40" cy="860.00" r="8.00" stroke-width="1.0" fill="white"/>
<text x="373.40" y="862.90" font-size="8.2" text-anchor="middle" font-weight="normal" font-style="normal" textLength="7.00" lengthAdjust="spacingAndGlyphs" >15</text>
<line x1="539.71" y1="830.68" x2="549.30" y2="795.60" stroke-width="1.0" />
<polygon points="549.30,795.60 549.53,799.29 547.22,798.66" stroke-width="0.5" fill="black"/>
<circle cx="537.60" cy="838.40" r="8.00" stroke-width="1.0" fill="white"/>
<text x="537.60" y="841.30" font-size="8.2" text-anchor="middle" font-weight="normal" font-style="normal" textLength="7.00" lengthAdjust="spacingAndGlyphs" >14</text>
<line x1="978.40" y1="518.75" x2="978.40" y2="566.60" stroke-width="1.0" />
<line x1="1025.60" y1="518.75" x2="1025.60" y2="566.60" stroke-width="1.0" />
<line x1="978.40" y1="527.75" x2="1034.60" y2="527.75" stroke-width="1.0" />
<polygon points="978.40,527.75 984.50,526.70 984.50,528.80" stroke-width="0.4" fill="black"/>
<polygon points="1025.60,527.75 1019.50,526.70 1019.50,528.80" stroke-width="0.4" fill="black"/>
<text x="1037.80" y="532.20" font-size="12.6" text-anchor="start" font-weight="normal" font-style="normal" textLength="42.20" lengthAdjust="spacingAndGlyphs" >1.0000</text>
<line x1="928.50" y1="741.00" x2="928.50" y2="869.75" stroke-width="1.0" />
<line x1="1076.60" y1="741.00" x2="1076.60" y2="869.75" stroke-width="1.0" />
<line x1="928.50" y1="860.60" x2="977.00" y2="860.60" stroke-width="1.0" />
<line x1="1027.50" y1="860.60" x2="1076.60" y2="860.60" stroke-width="1.0" />
<text x="1002.30" y="865.00" font-size="12.6" text-anchor="middle" font-weight="normal" font-style="normal" textLength="43.40" lengthAdjust="spacingAndGlyphs" >3.1240</text>
<path d="M967.5,599.4 L1038.4,599.4 Q1040.5,608 1049.6,610.6 L1049.6,682.8 Q1040.5,685 1038.4,693.5 L967.5,693.5 Q965.5,685 955.9,682.8 L955.9,610.6 Q965.5,608 967.5,599.4 Z" stroke-width="1.8" fill="white"/>
<rect x="926.25" y="636.90" width="29.65" height="18.35" stroke-width="1.8" fill="white"/>
<line x1="967.00" y1="622.80" x2="1038.40" y2="622.80" stroke-width="2.4" />
<line x1="967.00" y1="622.80" x2="967.00" y2="693.50" stroke-width="1.8" />
<line x1="1038.40" y1="622.80" x2="1038.40" y2="693.50" stroke-width="1.8" />
<line x1="967.00" y1="669.70" x2="1038.40" y2="669.70" stroke-width="1.8" />
<line x1="967.00" y1="661.25" x2="978.75" y2="661.25" stroke-width="1.8" />
<line x1="1026.50" y1="661.25" x2="1038.40" y2="661.25" stroke-width="1.8" />
<polygon points="978.75,651.50 978.75,661.25 972.00,661.25 976.50,659.00" stroke-width="0.6" fill="black"/>
<polygon points="1026.50,651.50 1026.50,661.25 1033.50,661.25 1029.00,659.00" stroke-width="0.6" fill="black"/>
<rect x="978.75" y="569.00" width="47.75" height="23.40" stroke-width="1.8" fill="white"/>
<line x1="978.75" y1="592.40" x2="1026.50" y2="592.40" stroke-width="2.4" />
<line x1="978.75" y1="598.00" x2="1026.50" y2="598.00" stroke-width="1.8" />
<line x1="978.75" y1="569.00" x2="978.75" y2="693.50" stroke-width="1.8" />
<line x1="1026.50" y1="569.00" x2="1026.50" y2="693.50" stroke-width="1.8" />
<line x1="978.75" y1="692.50" x2="1026.50" y2="692.50" stroke-width="2.4" />
<circle cx="991.00" cy="609.30" r="7.60" stroke-width="1.8" fill="white"/>
<circle cx="991.00" cy="609.30" r="5.00" stroke-width="1.4400000000000002" fill="none"/>
<polygon points="994.00,609.30 992.50,611.90 989.50,611.90 988.00,609.30 989.50,606.70 992.50,606.70" stroke-width="1.08" fill="none"/>
<circle cx="1014.40" cy="609.30" r="7.60" stroke-width="1.8" fill="white"/>
<circle cx="1014.40" cy="609.30" r="5.00" stroke-width="1.4400000000000002" fill="none"/>
<polygon points="1017.40,609.30 1015.90,611.90 1012.90,611.90 1011.40,609.30 1012.90,606.70 1015.90,606.70" stroke-width="1.08" fill="none"/>
<circle cx="991.00" cy="679.00" r="7.60" stroke-width="1.8" fill="white"/>
<circle cx="991.00" cy="679.00" r="5.00" stroke-width="1.4400000000000002" fill="none"/>
<polygon points="994.00,679.00 992.50,681.60 989.50,681.60 988.00,679.00 989.50,676.40 992.50,676.40" stroke-width="1.08" fill="none"/>
<circle cx="1014.40" cy="679.00" r="7.60" stroke-width="1.8" fill="white"/>
<circle cx="1014.40" cy="679.00" r="5.00" stroke-width="1.4400000000000002" fill="none"/>
<polygon points="1017.40,679.00 1015.90,681.60 1012.90,681.60 1011.40,679.00 1012.90,676.40 1015.90,676.40" stroke-width="1.08" fill="none"/>
<rect x="942.75" y="693.50" width="119.45" height="71.80" stroke-width="1.8" fill="white"/>
<line x1="967.00" y1="693.50" x2="967.00" y2="765.30" stroke-width="1.8" />
<line x1="1038.40" y1="693.50" x2="1038.40" y2="765.30" stroke-width="1.8" />
<path d="M942.75,718 L930,718 Q928.3,718 928.3,719.7 L928.3,740 L942.75,740" stroke-width="1.8" fill="none"/>
<path d="M1062.2,718 L1075,718 Q1076.8,718 1076.8,719.7 L1076.8,738.3 Q1076.8,740 1075,740 L1062.2,740" stroke-width="1.8" fill="none"/>
<rect x="978.75" y="699.30" width="47.75" height="119.10" stroke-width="1.8" fill="white"/>
<line x1="978.75" y1="723.10" x2="1026.50" y2="723.10" stroke-width="1.8" />
<line x1="978.75" y1="771.00" x2="1026.50" y2="771.00" stroke-width="1.8" />
<line x1="978.75" y1="793.80" x2="1026.50" y2="793.80" stroke-width="1.8" />
<circle cx="991.00" cy="711.90" r="7.60" stroke-width="1.8" fill="white"/>
<circle cx="991.00" cy="711.90" r="5.00" stroke-width="1.4400000000000002" fill="none"/>
<polygon points="994.00,711.90 992.50,714.50 989.50,714.50 988.00,711.90 989.50,709.30 992.50,709.30" stroke-width="1.08" fill="none"/>
<circle cx="1014.40" cy="711.90" r="7.60" stroke-width="1.8" fill="white"/>
<circle cx="1014.40" cy="711.90" r="5.00" stroke-width="1.4400000000000002" fill="none"/>
<polygon points="1017.40,711.90 1015.90,714.50 1012.90,714.50 1011.40,711.90 1012.90,709.30 1015.90,709.30" stroke-width="1.08" fill="none"/>
<circle cx="991.00" cy="782.20" r="7.60" stroke-width="1.8" fill="white"/>
<circle cx="991.00" cy="782.20" r="5.00" stroke-width="1.4400000000000002" fill="none"/>
<polygon points="994.00,782.20 992.50,784.80 989.50,784.80 988.00,782.20 989.50,779.60 992.50,779.60" stroke-width="1.08" fill="none"/>
<circle cx="1014.40" cy="782.20" r="7.60" stroke-width="1.8" fill="white"/>
<circle cx="1014.40" cy="782.20" r="5.00" stroke-width="1.4400000000000002" fill="none"/>
<polygon points="1017.40,782.20 1015.90,784.80 1012.90,784.80 1011.40,782.20 1012.90,779.60 1015.90,779.60" stroke-width="1.08" fill="none"/>
<line x1="1078.25" y1="632.69" x2="1051.00" y2="639.70" stroke-width="1.0" />
<polygon points="1051.00,639.70 1054.09,637.67 1054.69,639.99" stroke-width="0.5" fill="black"/>
<circle cx="1086.00" cy="630.70" r="7.90" stroke-width="1.0" fill="white"/>
<text x="1086.00" y="633.60" font-size="8.2" text-anchor="middle" font-weight="normal" font-style="normal" textLength="7.00" lengthAdjust="spacingAndGlyphs" >10</text>
<circle cx="1103.40" cy="630.70" r="7.90" stroke-width="1.0" fill="white"/>
<text x="1103.40" y="633.60" font-size="8.2" text-anchor="middle" font-weight="normal" font-style="normal" textLength="7.00" lengthAdjust="spacingAndGlyphs" >19</text>
<circle cx="1120.30" cy="630.70" r="7.90" stroke-width="1.0" fill="white"/>
<text x="1120.30" y="633.60" font-size="8.2" text-anchor="middle" font-weight="normal" font-style="normal" textLength="7.00" lengthAdjust="spacingAndGlyphs" >20</text>
<circle cx="1137.20" cy="630.70" r="7.90" stroke-width="1.0" fill="white"/>
<text x="1137.20" y="633.60" font-size="8.2" text-anchor="middle" font-weight="normal" font-style="normal" textLength="7.00" lengthAdjust="spacingAndGlyphs" >22</text>
<circle cx="1154.40" cy="630.70" r="7.90" stroke-width="1.0" fill="white"/>
<text x="1154.40" y="633.60" font-size="8.2" text-anchor="middle" font-weight="normal" font-style="normal" textLength="7.00" lengthAdjust="spacingAndGlyphs" >25</text>
<rect x="407.75" y="900.90" width="390.05" height="118.10" stroke-width="1.8" fill="none"/>
<polyline points="443.75,900.90 443.75,887.40 445.25,885.90 464.75,885.90 466.25,887.40 466.25,900.90" stroke-width="1.8" fill="white"/>
<polyline points="443.75,1019.00 443.75,1032.25 445.25,1033.75 464.75,1033.75 466.25,1032.25 466.25,1019.00" stroke-width="1.8" fill="white"/>
<polyline points="591.60,900.90 591.60,887.40 593.10,885.90 612.70,885.90 614.20,887.40 614.20,900.90" stroke-width="1.8" fill="white"/>
<polyline points="591.60,1019.00 591.60,1032.25 593.10,1033.75 612.70,1033.75 614.20,1032.25 614.20,1019.00" stroke-width="1.8" fill="white"/>
<polyline points="739.70,900.90 739.70,887.40 741.20,885.90 760.70,885.90 762.20,887.40 762.20,900.90" stroke-width="1.8" fill="white"/>
<polyline points="739.70,1019.00 739.70,1032.25 741.20,1033.75 760.70,1033.75 762.20,1032.25 762.20,1019.00" stroke-width="1.8" fill="white"/>
<rect x="513.75" y="883.80" width="18.45" height="17.10" stroke-width="1.8" fill="white"/>
<line x1="407.75" y1="900.90" x2="797.80" y2="900.90" stroke-width="1.8" />
<rect x="402.90" y="923.75" width="394.90" height="71.25" stroke-width="1.8" fill="none"/>
<rect x="336.90" y="936.00" width="532.50" height="46.80" stroke-width="1.8" fill="white"/>
<line x1="455.00" y1="936.00" x2="455.00" y2="982.80" stroke-width="1.8" />
<line x1="751.00" y1="936.00" x2="751.00" y2="982.80" stroke-width="1.8" />
<circle cx="360.00" cy="960.20" r="9.20" stroke-width="1.8" fill="none"/>
<line x1="354.50" y1="960.20" x2="365.50" y2="960.20" stroke-width="1.0" />
<line x1="360.00" y1="954.70" x2="360.00" y2="966.00" stroke-width="1.0" />
<circle cx="845.00" cy="960.20" r="9.20" stroke-width="1.8" fill="none"/>
<circle cx="419.00" cy="960.20" r="8.30" stroke-width="2.6" fill="white"/>
<circle cx="419.00" cy="960.20" r="5.20" stroke-width="1.26" fill="none"/>
<polygon points="422.60,960.20 420.80,963.32 417.20,963.32 415.40,960.20 417.20,957.08 420.80,957.08" stroke-width="1.08" fill="none"/>
<circle cx="443.40" cy="960.20" r="8.30" stroke-width="2.6" fill="white"/>
<circle cx="443.40" cy="960.20" r="5.20" stroke-width="1.26" fill="none"/>
<polygon points="447.00,960.20 445.20,963.32 441.60,963.32 439.80,960.20 441.60,957.08 445.20,957.08" stroke-width="1.08" fill="none"/>
<circle cx="763.00" cy="960.20" r="8.30" stroke-width="2.6" fill="white"/>
<circle cx="763.00" cy="960.20" r="5.20" stroke-width="1.26" fill="none"/>
<polygon points="766.60,960.20 764.80,963.32 761.20,963.32 759.40,960.20 761.20,957.08 764.80,957.08" stroke-width="1.08" fill="none"/>
<circle cx="786.20" cy="960.20" r="8.30" stroke-width="2.6" fill="white"/>
<circle cx="786.20" cy="960.20" r="5.20" stroke-width="1.26" fill="none"/>
<polygon points="789.80,960.20 788.00,963.32 784.40,963.32 782.60,960.20 784.40,957.08 788.00,957.08" stroke-width="1.08" fill="none"/>
<text x="276.00" y="911.30" font-size="12.6" text-anchor="start" font-weight="normal" font-style="normal" textLength="50.60" lengthAdjust="spacingAndGlyphs" >⌀0.4060</text>
<path d="M330.3,906.4 L339.7,906.4 L355.6,951" stroke-width="1.0" fill="none"/>
<polygon points="355.90,951.60 353.00,946.40 355.30,945.60" stroke-width="0.4" fill="black"/>
<line x1="336.50" y1="986.50" x2="336.50" y2="1099.00" stroke-width="1.0" />
<line x1="868.60" y1="986.50" x2="868.60" y2="1098.60" stroke-width="1.0" />
<line x1="360.00" y1="966.00" x2="360.00" y2="1073.70" stroke-width="1.0" />
<line x1="844.75" y1="969.50" x2="844.75" y2="1073.50" stroke-width="1.0" />
<line x1="360.00" y1="1064.40" x2="572.00" y2="1064.40" stroke-width="1.0" />
<line x1="631.00" y1="1064.40" x2="844.75" y2="1064.40" stroke-width="1.0" />
<line x1="336.50" y1="1090.50" x2="572.00" y2="1090.50" stroke-width="1.0" />
<line x1="631.00" y1="1090.50" x2="868.60" y2="1090.50" stroke-width="1.0" />
<text x="601.80" y="1068.80" font-size="12.6" text-anchor="middle" font-weight="normal" font-style="normal" textLength="51.60" lengthAdjust="spacingAndGlyphs" >10.2500</text>
<text x="601.80" y="1094.90" font-size="12.6" text-anchor="middle" font-weight="normal" font-style="normal" textLength="51.60" lengthAdjust="spacingAndGlyphs" >11.2500</text>
<polygon points="360.00,1064.40 366.00,1063.30 366.00,1065.50" stroke-width="0.4" fill="black"/>
<polygon points="844.75,1064.40 838.75,1063.30 838.75,1065.50" stroke-width="0.4" fill="black"/>
<polygon points="336.50,1090.50 342.50,1089.40 342.50,1091.60" stroke-width="0.4" fill="black"/>
<polygon points="868.60,1090.50 862.60,1089.40 862.60,1091.60" stroke-width="0.4" fill="black"/>
<line x1="387.76" y1="1015.28" x2="414.70" y2="968.75" stroke-width="1.0" />
<circle cx="383.75" cy="1022.20" r="8.00" stroke-width="1.0" fill="white"/>
<text x="383.75" y="1025.10" font-size="8.2" text-anchor="middle" font-weight="normal" font-style="normal" textLength="7.00" lengthAdjust="spacingAndGlyphs" >26</text>
<line x1="593.74" y1="853.31" x2="602.40" y2="884.60" stroke-width="1.0" />
<polygon points="602.40,884.60 600.31,881.55 602.62,880.91" stroke-width="0.5" fill="black"/>
<circle cx="591.60" cy="845.60" r="8.00" stroke-width="1.0" fill="white"/>
<text x="591.60" y="848.50" font-size="8.2" text-anchor="middle" font-weight="normal" font-style="normal" textLength="7.00" lengthAdjust="spacingAndGlyphs" >23</text>
<line x1="659.48" y1="865.74" x2="650.80" y2="899.00" stroke-width="1.0" />
<polygon points="650.80,899.00 650.52,895.31 652.84,895.92" stroke-width="0.5" fill="black"/>
<circle cx="661.50" cy="858.00" r="8.00" stroke-width="1.0" fill="white"/>
<text x="661.50" y="860.90" font-size="8.2" text-anchor="middle" font-weight="normal" font-style="normal" textLength="7.00" lengthAdjust="spacingAndGlyphs" >16</text>
<line x1="829.36" y1="911.47" x2="799.00" y2="929.40" stroke-width="1.0" />
<polygon points="799.00,929.40 801.40,926.59 802.62,928.65" stroke-width="0.5" fill="black"/>
<circle cx="836.25" cy="907.40" r="8.00" stroke-width="1.0" fill="white"/>
<text x="836.25" y="910.30" font-size="8.2" text-anchor="middle" font-weight="normal" font-style="normal" >1</text>
<polygon points="1074.07,410.99 1157.92,459.40 1124.45,478.73 1040.60,430.32" stroke-width="1.5" fill="white"/>
<polygon points="1040.60,430.32 1124.45,478.73 1124.45,498.63 1040.60,450.22" stroke-width="1.5" fill="white"/>
<polygon points="1157.92,459.40 1124.45,478.73 1124.45,498.63 1157.92,479.31" stroke-width="1.5" fill="white"/>
<polygon points="1367.12,580.18 1450.80,628.49 1417.32,647.82 1333.64,599.51" stroke-width="1.5" fill="white"/>
<polygon points="1333.64,599.51 1417.32,647.82 1417.32,667.72 1333.64,619.41" stroke-width="1.5" fill="white"/>
<polygon points="1450.80,628.49 1417.32,647.82 1417.32,667.72 1450.80,648.40" stroke-width="1.5" fill="white"/>
<ellipse cx="1416.65" cy="628.11" rx="8.99" ry="5.19" stroke-width="1.5" fill="none"/>
<polygon points="1149.98,343.70 1425.86,502.98 1408.79,512.83 1132.91,353.56" stroke-width="1.5" fill="white"/>
<polygon points="1132.91,353.56 1408.79,512.83 1408.79,572.36 1132.91,413.08" stroke-width="1.5" fill="white"/>
<polygon points="1425.86,502.98 1408.79,512.83 1408.79,572.36 1425.86,562.50" stroke-width="1.5" fill="white"/>
<polygon points="1132.91,353.56 1408.79,512.83 1358.58,541.82 1082.71,382.54" stroke-width="1.5" fill="white"/>
<polygon points="1082.71,382.54 1358.58,541.82 1358.58,604.82 1082.71,445.54" stroke-width="1.5" fill="white"/>
<polygon points="1408.79,512.83 1358.58,541.82 1358.58,604.82 1408.79,575.83" stroke-width="1.5" fill="white"/>
<polygon points="1116.08,357.75 1124.45,362.58 1090.97,381.91 1082.61,377.08" stroke-width="1.5" fill="white"/>
<polygon points="1082.61,377.08 1090.97,381.91 1090.97,459.40 1082.61,454.57" stroke-width="1.5" fill="white"/>
<polygon points="1124.45,362.58 1090.97,381.91 1090.97,459.40 1124.45,440.08" stroke-width="1.5" fill="white"/>
<polygon points="1128.66,331.58 1155.04,346.81 1104.83,375.80 1078.45,360.57" stroke-width="1.5" fill="white"/>
<polygon points="1078.45,360.57 1104.83,375.80 1104.83,395.32 1078.45,380.09" stroke-width="1.5" fill="white"/>
<polygon points="1155.04,346.81 1104.83,375.80 1104.83,395.32 1155.04,366.33" stroke-width="1.5" fill="white"/>
<ellipse cx="1105.03" cy="366.25" rx="8.52" ry="4.92" stroke-width="1.2" fill="#111"/>
<ellipse cx="1105.03" cy="366.25" rx="3.30" ry="1.70" stroke-width="0.8" fill="white"/>
<ellipse cx="1105.03" cy="366.25" rx="1.40" ry="0.80" stroke-width="0.6" fill="#111"/>
<polygon points="1111.79,263.75 1149.42,285.48 1115.94,304.80 1078.32,283.08" stroke-width="1.5" fill="white"/>
<polygon points="1078.32,283.08 1115.94,304.80 1115.94,333.05 1078.32,311.33" stroke-width="1.5" fill="white"/>
<polygon points="1149.42,285.48 1115.94,304.80 1115.94,333.05 1149.42,313.73" stroke-width="1.5" fill="white"/>
<polygon points="1090.30,318.25 1093.32,324.90 1115.41,337.65 1115.41,332.74" stroke-width="1.5" fill="white"/>
<polygon points="1093.99,325.29 1093.99,332.63 1104.70,338.81 1104.70,331.47" stroke-width="1.2000000000000002" fill="white"/>
<polygon points="1072.00,291.50 1077.30,289.50 1080.30,311.50 1075.20,313.50" stroke-width="1.5" fill="white"/>
<polygon points="1076.30,373.50 1080.00,371.50 1081.50,382.00 1077.50,384.00" stroke-width="1.5" fill="#222"/>
<polygon points="1077.08,282.36 1079.43,283.72 1088.30,356.59 1085.95,355.24" stroke-width="1.35" fill="#222"/>
<polygon points="1157.75,302.58 1166.62,307.70 1133.15,327.02 1124.28,321.90" stroke-width="1.5" fill="white"/>
<polygon points="1124.28,321.90 1133.15,327.02 1133.15,399.30 1124.28,394.18" stroke-width="1.5" fill="white"/>
<polygon points="1166.62,307.70 1133.15,327.02 1133.15,399.30 1166.62,379.97" stroke-width="1.5" fill="white"/>
<polygon points="1124.28,321.90 1133.15,327.02 1153.23,315.43 1144.36,310.31" stroke-width="1.5" fill="#111"/>
<polygon points="1118.09,410.70 1166.95,438.92 1166.95,371.67 1118.09,343.45" stroke-width="1.5" fill="white"/>
<polygon points="1125.45,330.70 1174.32,358.91 1225.20,329.54 1176.33,301.32" stroke-width="1.5" fill="white"/>
<polygon points="1118.09,343.45 1166.95,371.67 1174.32,358.91 1125.45,330.70" stroke-width="1.5" fill="white"/>
<polygon points="1232.56,401.04 1166.95,438.92 1166.95,371.67 1174.32,358.91 1225.20,329.54 1232.56,333.79" stroke-width="1.5" fill="white"/>
<ellipse cx="1156.24" cy="394.86" rx="8.99" ry="5.19" stroke-width="1.5" fill="white" transform="rotate(60.0 1156.24 394.86)"/>
<polygon points="1160.74,402.64 1142.33,413.27 1133.34,397.70 1151.75,387.07" stroke-width="0.01" fill="white"/>
<line x1="1160.74" y1="402.64" x2="1142.33" y2="413.27" stroke-width="1.5" />
<line x1="1151.75" y1="387.07" x2="1133.34" y2="397.70" stroke-width="1.5" />
<ellipse cx="1137.83" cy="405.48" rx="8.99" ry="5.19" stroke-width="1.5" fill="white" transform="rotate(60.0 1137.83 405.48)"/>
<polygon points="1225.20,387.32 1275.07,416.11 1224.86,445.10 1174.99,416.31" stroke-width="1.5" fill="white"/>
<polygon points="1174.99,416.31 1224.86,445.10 1224.86,464.62 1174.99,435.82" stroke-width="1.5" fill="white"/>
<polygon points="1275.07,416.11 1224.86,445.10 1224.86,464.62 1275.07,435.63" stroke-width="1.5" fill="white"/>
<polygon points="1224.86,348.67 1231.56,352.53 1181.35,381.52 1174.65,377.66" stroke-width="1.5" fill="white"/>
<polygon points="1174.65,377.66 1181.35,381.52 1181.35,419.98 1174.65,416.11" stroke-width="1.5" fill="white"/>
<polygon points="1231.56,352.53 1181.35,381.52 1181.35,419.98 1231.56,390.99" stroke-width="1.5" fill="white"/>
<polygon points="1231.56,383.45 1255.99,397.56 1205.78,426.55 1181.35,412.44" stroke-width="1.5" fill="white"/>
<polygon points="1181.35,412.44 1205.78,426.55 1205.78,434.08 1181.35,419.98" stroke-width="1.5" fill="white"/>
<polygon points="1255.99,397.56 1205.78,426.55 1205.78,434.08 1255.99,405.10" stroke-width="1.5" fill="white"/>
<ellipse cx="1198.42" cy="390.99" rx="8.99" ry="5.19" stroke-width="2.0" fill="white" transform="rotate(-60.0 1198.42 390.99)"/>
<ellipse cx="1198.42" cy="390.99" rx="4.26" ry="2.46" stroke-width="1.8" fill="#333" transform="rotate(-60.0 1198.42 390.99)"/>
<ellipse cx="1208.79" cy="410.89" rx="12.78" ry="7.38" stroke-width="2.2" fill="white"/>
<ellipse cx="1208.79" cy="407.03" rx="9.47" ry="5.47" stroke-width="1.8" fill="white"/>
<ellipse cx="1208.79" cy="404.32" rx="5.68" ry="3.28" stroke-width="1.4" fill="white"/>
<polygon points="1232.43,333.40 1258.33,348.36 1224.86,367.68 1198.95,352.73" stroke-width="1.5" fill="white"/>
<polygon points="1198.95,352.73 1224.86,367.68 1224.86,395.94 1198.95,380.98" stroke-width="1.5" fill="white"/>
<polygon points="1258.33,348.36 1224.86,367.68 1224.86,395.94 1258.33,376.61" stroke-width="1.5" fill="white"/>
<polygon points="1260.01,350.41 1219.84,373.60 1232.56,462.88 1272.73,439.69" stroke-width="1.5" fill="white"/>
<polygon points="1217.50,372.24 1219.84,373.60 1232.56,462.88 1230.22,461.53" stroke-width="1.35" fill="#222"/>
<polygon points="1257.66,352.53 1261.01,354.47 1224.19,375.72 1220.84,373.79" stroke-width="1.5" fill="white"/>
<polygon points="1220.84,373.79 1224.19,375.72 1224.19,395.82 1220.84,393.89" stroke-width="1.5" fill="white"/>
<polygon points="1261.01,354.47 1224.19,375.72 1224.19,395.82 1261.01,374.56" stroke-width="1.5" fill="white"/>
<ellipse cx="1233.56" cy="380.36" rx="7.57" ry="4.37" stroke-width="1.5" fill="white" transform="rotate(-60.0 1233.56 380.36)"/>
<polygon points="1237.35,373.80 1242.71,376.89 1235.13,390.01 1229.78,386.92" stroke-width="0.01" fill="white"/>
<line x1="1237.35" y1="373.80" x2="1242.71" y2="376.89" stroke-width="1.5" />
<line x1="1229.78" y1="386.92" x2="1235.13" y2="390.01" stroke-width="1.5" />
<ellipse cx="1238.92" cy="383.45" rx="7.57" ry="4.37" stroke-width="1.5" fill="white" transform="rotate(-60.0 1238.92 383.45)"/>
<ellipse cx="1238.92" cy="383.45" rx="4.54" ry="2.62" stroke-width="1.8" fill="#333" transform="rotate(-60.0 1238.92 383.45)"/>
<ellipse cx="1251.64" cy="369.93" rx="7.57" ry="4.37" stroke-width="1.5" fill="white" transform="rotate(-60.0 1251.64 369.93)"/>
<polygon points="1255.43,363.37 1260.78,366.46 1253.21,379.58 1247.85,376.48" stroke-width="0.01" fill="white"/>
<line x1="1255.43" y1="363.37" x2="1260.78" y2="366.46" stroke-width="1.5" />
<line x1="1247.85" y1="376.48" x2="1253.21" y2="379.58" stroke-width="1.5" />
<ellipse cx="1256.99" cy="373.02" rx="7.57" ry="4.37" stroke-width="1.5" fill="white" transform="rotate(-60.0 1256.99 373.02)"/>
<ellipse cx="1256.99" cy="373.02" rx="4.54" ry="2.62" stroke-width="1.8" fill="#333" transform="rotate(-60.0 1256.99 373.02)"/>
<polygon points="1270.38,420.94 1274.40,423.26 1237.58,444.52 1233.56,442.20" stroke-width="1.5" fill="white"/>
<polygon points="1233.56,442.20 1237.58,444.52 1237.58,463.07 1233.56,460.75" stroke-width="1.5" fill="white"/>
<polygon points="1274.40,423.26 1237.58,444.52 1237.58,463.07 1274.40,441.81" stroke-width="1.5" fill="white"/>
<ellipse cx="1246.95" cy="448.39" rx="7.57" ry="4.37" stroke-width="1.5" fill="white" transform="rotate(-60.0 1246.95 448.39)"/>
<polygon points="1250.74,441.83 1256.09,444.92 1248.52,458.04 1243.17,454.94" stroke-width="0.01" fill="white"/>
<line x1="1250.74" y1="441.83" x2="1256.09" y2="444.92" stroke-width="1.5" />
<line x1="1243.17" y1="454.94" x2="1248.52" y2="458.04" stroke-width="1.5" />
<ellipse cx="1252.31" cy="451.48" rx="7.57" ry="4.37" stroke-width="1.5" fill="white" transform="rotate(-60.0 1252.31 451.48)"/>
<ellipse cx="1252.31" cy="451.48" rx="4.54" ry="2.62" stroke-width="1.8" fill="#333" transform="rotate(-60.0 1252.31 451.48)"/>
<ellipse cx="1265.03" cy="437.95" rx="7.57" ry="4.37" stroke-width="1.5" fill="white" transform="rotate(-60.0 1265.03 437.95)"/>
<polygon points="1268.81,431.39 1274.17,434.48 1266.60,447.60 1261.24,444.51" stroke-width="0.01" fill="white"/>
<line x1="1268.81" y1="431.39" x2="1274.17" y2="434.48" stroke-width="1.5" />
<line x1="1261.24" y1="444.51" x2="1266.60" y2="447.60" stroke-width="1.5" />
<ellipse cx="1270.38" cy="441.04" rx="7.57" ry="4.37" stroke-width="1.5" fill="white" transform="rotate(-60.0 1270.38 441.04)"/>
<ellipse cx="1270.38" cy="441.04" rx="4.54" ry="2.62" stroke-width="1.8" fill="#333" transform="rotate(-60.0 1270.38 441.04)"/>
<polygon points="1383.75,478.86 1406.61,492.06 1356.41,521.05 1333.54,507.85" stroke-width="1.5" fill="white"/>
<polygon points="1333.54,507.85 1356.41,521.05 1356.41,540.57 1333.54,527.37" stroke-width="1.5" fill="white"/>
<polygon points="1406.61,492.06 1356.41,521.05 1356.41,540.57 1406.61,511.58" stroke-width="1.5" fill="white"/>
<ellipse cx="1350.72" cy="507.71" rx="8.52" ry="4.92" stroke-width="1.2" fill="#111"/>
<ellipse cx="1350.72" cy="507.71" rx="3.30" ry="1.70" stroke-width="0.8" fill="white"/>
<ellipse cx="1350.72" cy="507.71" rx="1.40" ry="0.80" stroke-width="0.6" fill="#111"/>
<polygon points="1367.05,411.13 1391.52,425.25 1358.05,444.58 1333.58,430.45" stroke-width="1.5" fill="white"/>
<polygon points="1333.58,430.45 1358.05,444.58 1358.05,472.83 1333.58,458.70" stroke-width="1.5" fill="white"/>
<polygon points="1391.52,425.25 1358.05,444.58 1358.05,472.83 1391.52,453.51" stroke-width="1.5" fill="white"/>
<polygon points="1393.89,427.71 1353.73,450.90 1366.45,540.18 1406.61,516.99" stroke-width="1.5" fill="white"/>
<polygon points="1351.38,449.54 1353.73,450.90 1366.45,540.18 1364.10,538.83" stroke-width="1.35" fill="#222"/>
<polygon points="1391.55,429.83 1394.90,431.77 1358.08,453.02 1354.73,451.09" stroke-width="1.5" fill="white"/>
<polygon points="1354.73,451.09 1358.08,453.02 1358.08,473.12 1354.73,471.19" stroke-width="1.5" fill="white"/>
<polygon points="1394.90,431.77 1358.08,453.02 1358.08,473.12 1394.90,451.86" stroke-width="1.5" fill="white"/>
<ellipse cx="1367.45" cy="457.66" rx="7.57" ry="4.37" stroke-width="1.5" fill="white" transform="rotate(-60.0 1367.45 457.66)"/>
<polygon points="1371.24,451.10 1376.59,454.19 1369.02,467.31 1363.66,464.22" stroke-width="0.01" fill="white"/>
<line x1="1371.24" y1="451.10" x2="1376.59" y2="454.19" stroke-width="1.5" />
<line x1="1363.66" y1="464.22" x2="1369.02" y2="467.31" stroke-width="1.5" />
<ellipse cx="1372.81" cy="460.75" rx="7.57" ry="4.37" stroke-width="1.5" fill="white" transform="rotate(-60.0 1372.81 460.75)"/>
<ellipse cx="1372.81" cy="460.75" rx="4.54" ry="2.62" stroke-width="1.8" fill="#333" transform="rotate(-60.0 1372.81 460.75)"/>
<ellipse cx="1385.53" cy="447.23" rx="7.57" ry="4.37" stroke-width="1.5" fill="white" transform="rotate(-60.0 1385.53 447.23)"/>
<polygon points="1389.31,440.67 1394.67,443.76 1387.09,456.88 1381.74,453.78" stroke-width="0.01" fill="white"/>
<line x1="1389.31" y1="440.67" x2="1394.67" y2="443.76" stroke-width="1.5" />
<line x1="1381.74" y1="453.78" x2="1387.09" y2="456.88" stroke-width="1.5" />
<ellipse cx="1390.88" cy="450.32" rx="7.57" ry="4.37" stroke-width="1.5" fill="white" transform="rotate(-60.0 1390.88 450.32)"/>
<ellipse cx="1390.88" cy="450.32" rx="4.54" ry="2.62" stroke-width="1.8" fill="#333" transform="rotate(-60.0 1390.88 450.32)"/>
<polygon points="1403.60,497.86 1407.62,500.18 1370.80,521.43 1366.78,519.11" stroke-width="1.5" fill="white"/>
<polygon points="1366.78,519.11 1370.80,521.43 1370.80,539.99 1366.78,537.67" stroke-width="1.5" fill="white"/>
<polygon points="1407.62,500.18 1370.80,521.43 1370.80,539.99 1407.62,518.73" stroke-width="1.5" fill="white"/>
<ellipse cx="1380.17" cy="525.30" rx="7.57" ry="4.37" stroke-width="1.5" fill="white" transform="rotate(-60.0 1380.17 525.30)"/>
<polygon points="1383.96,518.74 1389.31,521.83 1381.74,534.95 1376.38,531.86" stroke-width="0.01" fill="white"/>
<line x1="1383.96" y1="518.74" x2="1389.31" y2="521.83" stroke-width="1.5" />
<line x1="1376.38" y1="531.86" x2="1381.74" y2="534.95" stroke-width="1.5" />
<ellipse cx="1385.53" cy="528.39" rx="7.57" ry="4.37" stroke-width="1.5" fill="white" transform="rotate(-60.0 1385.53 528.39)"/>
<ellipse cx="1385.53" cy="528.39" rx="4.54" ry="2.62" stroke-width="1.8" fill="#333" transform="rotate(-60.0 1385.53 528.39)"/>
<ellipse cx="1398.25" cy="514.86" rx="7.57" ry="4.37" stroke-width="1.5" fill="white" transform="rotate(-60.0 1398.25 514.86)"/>
<polygon points="1402.03,508.30 1407.39,511.40 1399.81,524.51 1394.46,521.42" stroke-width="0.01" fill="white"/>
<line x1="1402.03" y1="508.30" x2="1407.39" y2="511.40" stroke-width="1.5" />
<line x1="1394.46" y1="521.42" x2="1399.81" y2="524.51" stroke-width="1.5" />
<ellipse cx="1403.60" cy="517.96" rx="7.57" ry="4.37" stroke-width="1.5" fill="white" transform="rotate(-60.0 1403.60 517.96)"/>
<ellipse cx="1403.60" cy="517.96" rx="4.54" ry="2.62" stroke-width="1.8" fill="#333" transform="rotate(-60.0 1403.60 517.96)"/>
<polygon points="1081.94,231.83 1425.02,429.91 1391.55,449.24 1048.46,251.15" stroke-width="1.5" fill="white"/>
<polygon points="1048.46,251.15 1391.55,449.24 1391.55,468.87 1048.46,270.79" stroke-width="1.5" fill="white"/>
<polygon points="1425.02,429.91 1391.55,449.24 1391.55,468.87 1425.02,449.54" stroke-width="1.5" fill="white"/>
<polygon points="1078.32,283.08 1115.94,304.80 1115.94,333.05 1078.32,311.33" stroke-width="1.5" fill="white"/>
<polygon points="1198.95,352.73 1224.86,367.68 1224.86,395.94 1198.95,380.98" stroke-width="1.5" fill="white"/>
<polygon points="1333.58,430.45 1358.05,444.58 1358.05,472.83 1333.58,458.70" stroke-width="1.5" fill="white"/>
<polygon points="1077.08,282.36 1079.43,283.72 1083.11,314.10 1080.76,312.74" stroke-width="1.35" fill="#222"/>
<ellipse cx="1104.96" cy="264.45" rx="8.52" ry="4.92" stroke-width="1.2" fill="#111"/>
<ellipse cx="1104.96" cy="264.45" rx="3.30" ry="1.70" stroke-width="0.8" fill="white"/>
<ellipse cx="1104.96" cy="264.45" rx="1.40" ry="0.80" stroke-width="0.6" fill="#111"/>
<ellipse cx="1121.93" cy="274.25" rx="8.52" ry="4.92" stroke-width="1.2" fill="#111"/>
<ellipse cx="1121.93" cy="274.25" rx="3.30" ry="1.70" stroke-width="0.8" fill="white"/>
<ellipse cx="1121.93" cy="274.25" rx="1.40" ry="0.80" stroke-width="0.6" fill="#111"/>
<ellipse cx="1216.26" cy="338.64" rx="8.52" ry="4.92" stroke-width="1.2" fill="#111"/>
<ellipse cx="1216.26" cy="338.64" rx="3.30" ry="1.70" stroke-width="0.8" fill="white"/>
<ellipse cx="1216.26" cy="338.64" rx="1.40" ry="0.80" stroke-width="0.6" fill="#111"/>
<ellipse cx="1233.46" cy="328.71" rx="8.52" ry="4.92" stroke-width="1.2" fill="#111"/>
<ellipse cx="1233.46" cy="328.71" rx="3.30" ry="1.70" stroke-width="0.8" fill="white"/>
<ellipse cx="1233.46" cy="328.71" rx="1.40" ry="0.80" stroke-width="0.6" fill="#111"/>
<ellipse cx="1350.15" cy="415.94" rx="8.52" ry="4.92" stroke-width="1.2" fill="#111"/>
<ellipse cx="1350.15" cy="415.94" rx="3.30" ry="1.70" stroke-width="0.8" fill="white"/>
<ellipse cx="1350.15" cy="415.94" rx="1.40" ry="0.80" stroke-width="0.6" fill="#111"/>
<ellipse cx="1367.35" cy="406.01" rx="8.52" ry="4.92" stroke-width="1.2" fill="#111"/>
<ellipse cx="1367.35" cy="406.01" rx="3.30" ry="1.70" stroke-width="0.8" fill="white"/>
<ellipse cx="1367.35" cy="406.01" rx="1.40" ry="0.80" stroke-width="0.6" fill="#111"/>
<polygon points="1082.71,382.54 1358.58,541.82 1341.51,551.68 1065.64,392.40" stroke-width="1.5" fill="white"/>
<polygon points="1065.64,392.40 1341.51,551.68 1341.51,611.20 1065.64,451.92" stroke-width="1.5" fill="white"/>
<polygon points="1358.58,541.82 1341.51,551.68 1341.51,611.20 1358.58,601.34" stroke-width="1.5" fill="white"/>
<ellipse cx="1100.01" cy="441.00" rx="10.65" ry="6.15" stroke-width="1.5" fill="white" transform="rotate(60.0 1100.01 441.00)"/>
<ellipse cx="1100.01" cy="441.00" rx="10.65" ry="6.15" stroke-width="1.5" fill="white" transform="rotate(60.0 1100.01 441.00)"/>
<polygon points="1105.34,450.23 1093.96,456.80 1083.31,438.35 1094.69,431.78" stroke-width="0.01" fill="white"/>
<line x1="1105.34" y1="450.23" x2="1093.96" y2="456.80" stroke-width="1.5" />
<line x1="1094.69" y1="431.78" x2="1083.31" y2="438.35" stroke-width="1.5" />
<ellipse cx="1088.63" cy="447.57" rx="10.65" ry="6.15" stroke-width="1.5" fill="white" transform="rotate(60.0 1088.63 447.57)"/>
<ellipse cx="1088.63" cy="447.57" rx="7.67" ry="4.43" stroke-width="1.0" fill="none" transform="rotate(60.0 1088.63 447.57)"/>
<ellipse cx="1088.63" cy="447.57" rx="4.47" ry="2.58" stroke-width="1.6" fill="#222" transform="rotate(60.0 1088.63 447.57)"/>
<ellipse cx="1204.78" cy="501.49" rx="10.65" ry="6.15" stroke-width="1.5" fill="white" transform="rotate(60.0 1204.78 501.49)"/>
<ellipse cx="1204.78" cy="501.49" rx="10.65" ry="6.15" stroke-width="1.5" fill="white" transform="rotate(60.0 1204.78 501.49)"/>
<polygon points="1210.10,510.71 1198.72,517.28 1188.07,498.84 1199.45,492.27" stroke-width="0.01" fill="white"/>
<line x1="1210.10" y1="510.71" x2="1198.72" y2="517.28" stroke-width="1.5" />
<line x1="1199.45" y1="492.27" x2="1188.07" y2="498.84" stroke-width="1.5" />
<ellipse cx="1193.40" cy="508.06" rx="10.65" ry="6.15" stroke-width="1.5" fill="white" transform="rotate(60.0 1193.40 508.06)"/>
<ellipse cx="1193.40" cy="508.06" rx="7.67" ry="4.43" stroke-width="1.0" fill="none" transform="rotate(60.0 1193.40 508.06)"/>
<ellipse cx="1193.40" cy="508.06" rx="4.47" ry="2.58" stroke-width="1.6" fill="#222" transform="rotate(60.0 1193.40 508.06)"/>
<ellipse cx="1309.21" cy="561.78" rx="10.65" ry="6.15" stroke-width="1.5" fill="white" transform="rotate(60.0 1309.21 561.78)"/>
<ellipse cx="1309.21" cy="561.78" rx="10.65" ry="6.15" stroke-width="1.5" fill="white" transform="rotate(60.0 1309.21 561.78)"/>
<polygon points="1314.54,571.01 1303.15,577.58 1292.50,559.13 1303.88,552.56" stroke-width="0.01" fill="white"/>
<line x1="1314.54" y1="571.01" x2="1303.15" y2="577.58" stroke-width="1.5" />
<line x1="1303.88" y1="552.56" x2="1292.50" y2="559.13" stroke-width="1.5" />
<ellipse cx="1297.83" cy="568.35" rx="10.65" ry="6.15" stroke-width="1.5" fill="white" transform="rotate(60.0 1297.83 568.35)"/>
<ellipse cx="1297.83" cy="568.35" rx="7.67" ry="4.43" stroke-width="1.0" fill="none" transform="rotate(60.0 1297.83 568.35)"/>
<ellipse cx="1297.83" cy="568.35" rx="4.47" ry="2.58" stroke-width="1.6" fill="#222" transform="rotate(60.0 1297.83 568.35)"/>
<polygon points="1400.59,522.79 1407.28,526.65 1373.81,545.98 1367.12,542.11" stroke-width="1.5" fill="white"/>
<polygon points="1367.12,542.11 1373.81,545.98 1373.81,622.70 1367.12,618.83" stroke-width="1.5" fill="white"/>
<polygon points="1407.28,526.65 1373.81,545.98 1373.81,622.70 1407.28,603.37" stroke-width="1.5" fill="white"/>
<polygon points="1408.96,525.69 1412.97,528.00 1376.15,549.26 1372.14,546.94" stroke-width="1.5" fill="white"/>
<polygon points="1372.14,546.94 1376.15,549.26 1376.15,568.59 1372.14,566.27" stroke-width="1.5" fill="white"/>
<polygon points="1412.97,528.00 1376.15,549.26 1376.15,568.59 1412.97,547.33" stroke-width="1.5" fill="white"/>
<ellipse cx="1385.53" cy="553.13" rx="7.57" ry="4.37" stroke-width="1.5" fill="white" transform="rotate(-60.0 1385.53 553.13)"/>
<polygon points="1389.31,546.57 1394.67,549.66 1387.09,562.78 1381.74,559.69" stroke-width="0.01" fill="white"/>
<line x1="1389.31" y1="546.57" x2="1394.67" y2="549.66" stroke-width="1.5" />
<line x1="1381.74" y1="559.69" x2="1387.09" y2="562.78" stroke-width="1.5" />
<ellipse cx="1390.88" cy="556.22" rx="7.57" ry="4.37" stroke-width="1.5" fill="white" transform="rotate(-60.0 1390.88 556.22)"/>
<ellipse cx="1390.88" cy="556.22" rx="4.54" ry="2.62" stroke-width="1.8" fill="#333" transform="rotate(-60.0 1390.88 556.22)"/>
<ellipse cx="1403.60" cy="542.69" rx="7.57" ry="4.37" stroke-width="1.5" fill="white" transform="rotate(-60.0 1403.60 542.69)"/>
<polygon points="1407.39,536.13 1412.74,539.22 1405.17,552.34 1399.81,549.25" stroke-width="0.01" fill="white"/>
<line x1="1407.39" y1="536.13" x2="1412.74" y2="539.22" stroke-width="1.5" />
<line x1="1399.81" y1="549.25" x2="1405.17" y2="552.34" stroke-width="1.5" />
<ellipse cx="1408.96" cy="545.78" rx="7.57" ry="4.37" stroke-width="1.5" fill="white" transform="rotate(-60.0 1408.96 545.78)"/>
<ellipse cx="1408.96" cy="545.78" rx="4.54" ry="2.62" stroke-width="1.8" fill="#333" transform="rotate(-60.0 1408.96 545.78)"/>
<polygon points="1408.96,583.66 1412.97,585.98 1376.15,607.24 1372.14,604.92" stroke-width="1.5" fill="white"/>
<polygon points="1372.14,604.92 1376.15,607.24 1376.15,625.98 1372.14,623.66" stroke-width="1.5" fill="white"/>
<polygon points="1412.97,585.98 1376.15,607.24 1376.15,625.98 1412.97,604.72" stroke-width="1.5" fill="white"/>
<ellipse cx="1385.53" cy="611.10" rx="7.57" ry="4.37" stroke-width="1.5" fill="white" transform="rotate(-60.0 1385.53 611.10)"/>
<polygon points="1389.31,604.54 1394.67,607.63 1387.09,620.75 1381.74,617.66" stroke-width="0.01" fill="white"/>
<line x1="1389.31" y1="604.54" x2="1394.67" y2="607.63" stroke-width="1.5" />
<line x1="1381.74" y1="617.66" x2="1387.09" y2="620.75" stroke-width="1.5" />
<ellipse cx="1390.88" cy="614.19" rx="7.57" ry="4.37" stroke-width="1.5" fill="white" transform="rotate(-60.0 1390.88 614.19)"/>
<ellipse cx="1390.88" cy="614.19" rx="4.54" ry="2.62" stroke-width="1.8" fill="#333" transform="rotate(-60.0 1390.88 614.19)"/>
<ellipse cx="1403.60" cy="600.67" rx="7.57" ry="4.37" stroke-width="1.5" fill="white" transform="rotate(-60.0 1403.60 600.67)"/>
<polygon points="1407.39,594.11 1412.74,597.20 1405.17,610.32 1399.81,607.23" stroke-width="0.01" fill="white"/>
<line x1="1407.39" y1="594.11" x2="1412.74" y2="597.20" stroke-width="1.5" />
<line x1="1399.81" y1="607.23" x2="1405.17" y2="610.32" stroke-width="1.5" />
<ellipse cx="1408.96" cy="603.76" rx="7.57" ry="4.37" stroke-width="1.5" fill="white" transform="rotate(-60.0 1408.96 603.76)"/>
<ellipse cx="1408.96" cy="603.76" rx="4.54" ry="2.62" stroke-width="1.8" fill="#333" transform="rotate(-60.0 1408.96 603.76)"/>
<rect x="1254.20" y="941.50" width="324.80" height="50.50" stroke-width="2.2" fill="none"/>
<text x="1416.50" y="948.20" font-size="4.6" text-anchor="middle" font-weight="normal" font-style="normal" textLength="291.00" lengthAdjust="spacingAndGlyphs" fill="#222">THIS DRAWING AND THE DATA IT CONTAINS IS THE PROPRIETARY INFORMATION OF THE COMPANY AND SHALL</text>
<text x="1416.50" y="954.25" font-size="4.6" text-anchor="middle" font-weight="normal" font-style="normal" textLength="320.00" lengthAdjust="spacingAndGlyphs" fill="#222">NOT BE DISCLOSED, REPRODUCED OR USED FOR ANY PURPOSE EXCEPT AS AUTHORIZED IN WRITING. ALL RIGHTS</text>
<text x="1416.50" y="960.30" font-size="4.6" text-anchor="middle" font-weight="normal" font-style="normal" textLength="315.00" lengthAdjust="spacingAndGlyphs" fill="#222">TO THE DESIGN OR INVENTION ARE RESERVED. THE RECIPIENT AGREES TO HOLD IT IN CONFIDENCE AND TO RETURN</text>
<text x="1416.50" y="966.35" font-size="4.6" text-anchor="middle" font-weight="normal" font-style="normal" textLength="298.00" lengthAdjust="spacingAndGlyphs" fill="#222">IT UPON REQUEST. NO LICENSE IS GRANTED UNDER ANY PATENT OR PATENT APPLICATION BY DELIVERY</text>
<text x="1416.50" y="972.40" font-size="4.6" text-anchor="middle" font-weight="normal" font-style="normal" textLength="300.00" lengthAdjust="spacingAndGlyphs" fill="#222">HEREOF. DO NOT SCALE THIS DRAWING. ALL DIMENSIONS ARE IN INCHES UNLESS OTHERWISE NOTED.</text>
<text x="1416.50" y="978.45" font-size="4.6" text-anchor="middle" font-weight="normal" font-style="normal" textLength="321.00" lengthAdjust="spacingAndGlyphs" fill="#222">* BREAK ALL SHARP EDGES AND REMOVE BURRS. INTERPRET DRAWING PER ASME Y14.5. THIRD ANGLE PROJECTION</text>
<text x="1416.50" y="984.50" font-size="4.6" text-anchor="middle" font-weight="normal" font-style="normal" textLength="140.00" lengthAdjust="spacingAndGlyphs" fill="#222">THE COMPANY RESERVES ALL RIGHTS IN THIS DOCUMENT.</text>
<line x1="1253.00" y1="992.80" x2="1579.00" y2="992.80" stroke-width="3.6" />
<line x1="1254.20" y1="992.00" x2="1254.20" y2="1112.00" stroke-width="2.2" />
<line x1="1318.20" y1="992.00" x2="1318.20" y2="1112.00" stroke-width="2.4" />
<line x1="1254.00" y1="1012.00" x2="1318.00" y2="1012.00" stroke-width="4" />
<text x="1284.00" y="1000.40" font-size="5" text-anchor="middle" font-weight="normal" font-style="normal" textLength="33.00" lengthAdjust="spacingAndGlyphs" >DRAWN BY</text>
<clipPath id="cpesr"><rect x="1256" y="994" width="61" height="16"/></clipPath>
<text x="1284.50" y="1011.40" font-size="12" text-anchor="middle" font-weight="normal" font-style="normal" clip-path="url(#cpesr)">ESR</text>
<line x1="1256.40" y1="1012.00" x2="1256.40" y2="1110.00" stroke-width="2.8" />
<line x1="1316.40" y1="1012.00" x2="1316.40" y2="1110.00" stroke-width="2.8" />
<line x1="1256.00" y1="1029.70" x2="1317.00" y2="1029.70" stroke-width="2" />
<line x1="1256.00" y1="1070.80" x2="1317.00" y2="1070.80" stroke-width="2" />
<line x1="1256.00" y1="1091.60" x2="1317.00" y2="1091.60" stroke-width="2" />
<line x1="1256.00" y1="1109.00" x2="1317.00" y2="1109.00" stroke-width="2" />
<text x="1258.50" y="1021.50" font-size="6" text-anchor="start" font-weight="normal" font-style="italic" textLength="43.00" lengthAdjust="spacingAndGlyphs" >TOLERANCES</text>
<text x="1261.00" y="1027.30" font-size="4" text-anchor="start" font-weight="normal" font-style="normal" textLength="42.00" lengthAdjust="spacingAndGlyphs" >. . . .   .  .   .</text>
<text x="1261.00" y="1036.00" font-size="4" text-anchor="start" font-weight="normal" font-style="normal" >.      .</text>
<text x="1290.00" y="1045.50" font-size="5.5" text-anchor="start" font-weight="normal" font-style="italic" textLength="17.00" lengthAdjust="spacingAndGlyphs" >± .XX</text>
<text x="1290.00" y="1052.50" font-size="5.5" text-anchor="start" font-weight="normal" font-style="italic" textLength="17.00" lengthAdjust="spacingAndGlyphs" >± .XX</text>
<text x="1290.00" y="1060.00" font-size="5.5" text-anchor="start" font-weight="normal" font-style="italic" textLength="17.00" lengthAdjust="spacingAndGlyphs" >± .XX</text>
<text x="1290.00" y="1067.00" font-size="5.5" text-anchor="start" font-weight="normal" font-style="italic" textLength="17.00" lengthAdjust="spacingAndGlyphs" >± .XX</text>
<text x="1258.50" y="1078.50" font-size="5" text-anchor="start" font-weight="normal" font-style="normal" >'''       ''</text>
<text x="1264.00" y="1088.50" font-size="7" text-anchor="start" font-weight="normal" font-style="italic" textLength="27.00" lengthAdjust="spacingAndGlyphs" >±  1/16</text>
<text x="1258.50" y="1099.00" font-size="5" text-anchor="start" font-weight="normal" font-style="normal" >' '     ' `</text>
<text x="1264.00" y="1107.30" font-size="7" text-anchor="start" font-weight="normal" font-style="italic" textLength="24.00" lengthAdjust="spacingAndGlyphs" >±  0.5°</text>
<line x1="1318.00" y1="1051.00" x2="1579.00" y2="1051.00" stroke-width="2" />
<line x1="1318.00" y1="1077.00" x2="1579.00" y2="1077.00" stroke-width="2" />
<line x1="1318.00" y1="1101.00" x2="1579.00" y2="1101.00" stroke-width="2" />
<line x1="1338.80" y1="1077.00" x2="1338.80" y2="1101.00" stroke-width="2" />
<line x1="1482.80" y1="1101.00" x2="1482.80" y2="1112.00" stroke-width="2" />
<text x="1448.50" y="1067.50" font-size="11.2" text-anchor="middle" font-weight="normal" font-style="normal" textLength="155.00" lengthAdjust="spacingAndGlyphs" >M-3 SM INLINE (220 VOLT)</text>
<text x="1320.50" y="1084.20" font-size="5.2" text-anchor="start" font-weight="normal" font-style="normal" textLength="15.00" lengthAdjust="spacingAndGlyphs" >SIZE</text>
<text x="1323.20" y="1098.00" font-size="11.5" text-anchor="start" font-weight="normal" font-style="normal" >D</text>
<text x="1340.50" y="1083.80" font-size="5.2" text-anchor="start" font-weight="normal" font-style="normal" textLength="26.00" lengthAdjust="spacingAndGlyphs" >DWG NO</text>
<text x="1368.30" y="1094.20" font-size="11.2" text-anchor="start" font-weight="normal" font-style="normal" textLength="41.00" lengthAdjust="spacingAndGlyphs" >978192</text>
<text x="1484.00" y="1109.80" font-size="5.2" text-anchor="start" font-weight="normal" font-style="normal" textLength="21.00" lengthAdjust="spacingAndGlyphs" >SHEET</text>
<text x="1520.50" y="1111.80" font-size="11" text-anchor="middle" font-weight="normal" font-style="normal" >1</text>
<text x="1540.50" y="1108.80" font-size="5.6" text-anchor="middle" font-weight="normal" font-style="normal" textLength="9.00" lengthAdjust="spacingAndGlyphs" >OF</text>
<text x="1556.50" y="1111.80" font-size="11" text-anchor="middle" font-weight="normal" font-style="normal" >1</text>
<clipPath id="cplogo"><rect x="1319.5" y="995" width="258" height="55"/></clipPath>
<g clip-path="url(#cplogo)">
<rect x="1421" y="985" width="44" height="44" fill="#fafafa" stroke="#7d7a78" stroke-width="1.3"/>
<rect x="1430" y="990" width="26" height="25.5" fill="#3c6fd8" stroke="none"/>
<polygon points="1430,1016 1430,1010 1443,997 1456,1010 1456,1016" fill="#35b6f0" stroke="none"/>
<polygon points="1434,1016 1443,1005 1452,1016" fill="#1d8fe0" stroke="none"/>
<text x="1376" y="1059.7" font-size="27" textLength="134.5" lengthAdjust="spacingAndGlyphs" style="fill:#3a0a3a">oEmbed (1).l</text>
</g>
<text x="1248.00" y="846.60" font-size="11.3" text-anchor="start" font-weight="bold" font-style="normal" textLength="121.00" lengthAdjust="spacingAndGlyphs" >MATERIAL: SEE BOM</text>
<text x="1248.00" y="874.75" font-size="11.3" text-anchor="start" font-weight="bold" font-style="normal" textLength="103.00" lengthAdjust="spacingAndGlyphs" >FINISH: PAINTED</text>
<text x="1248.00" y="902.75" font-size="11.3" text-anchor="start" font-weight="bold" font-style="normal" textLength="79.00" lengthAdjust="spacingAndGlyphs" >QTY REQ'D: 1</text>
</svg>
</body></html>
